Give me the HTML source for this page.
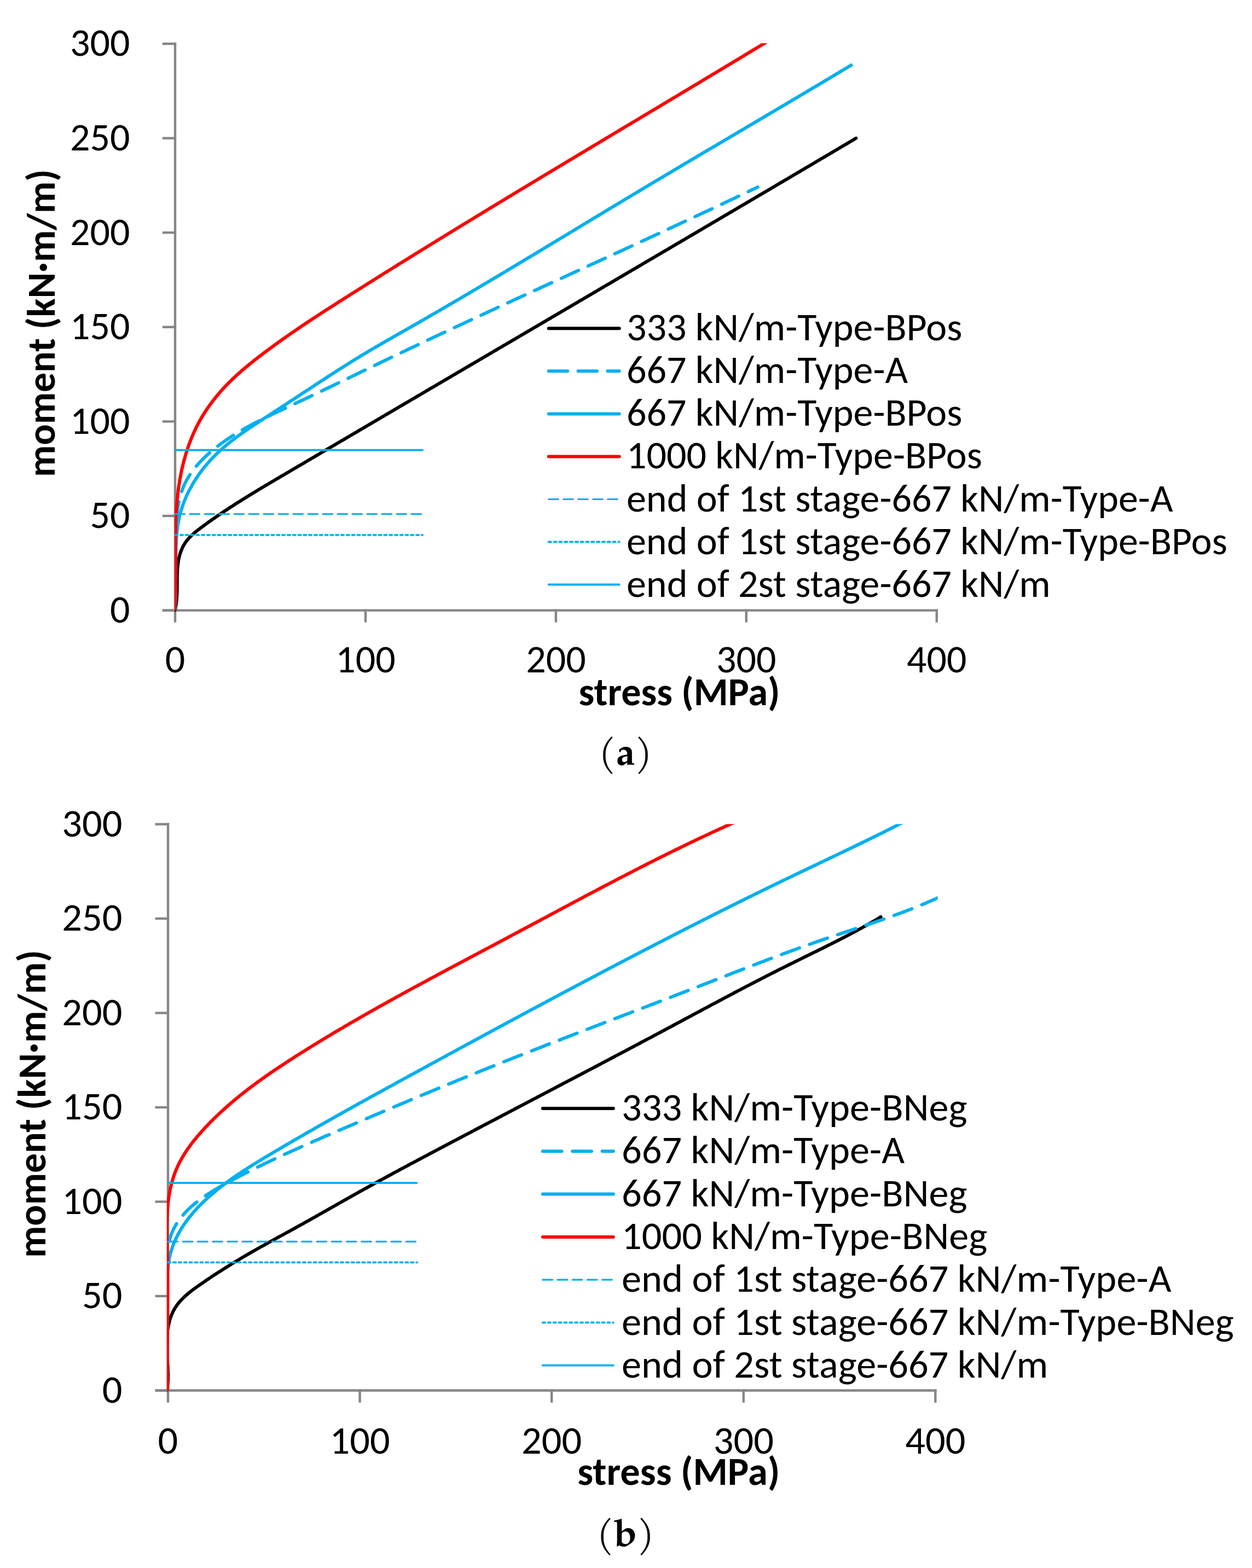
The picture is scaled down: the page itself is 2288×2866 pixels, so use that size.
<!DOCTYPE html>
<html><head><meta charset="utf-8"><title>Moment vs stress</title>
<style>html,body{margin:0;padding:0;background:#fff;}svg{display:block;}</style>
</head><body>
<svg width="2288" height="2866" viewBox="0 0 2288 2866">
<rect width="2288" height="2866" fill="#fff"/>
<g stroke="#868686" stroke-width="4.4" fill="none" stroke-linecap="butt">
<line x1="320.0" y1="77.8" x2="320.0" y2="1115.6"/>
<line x1="296.8" y1="1115.6" x2="322.2" y2="1115.6"/>
<line x1="296.8" y1="943.0" x2="322.2" y2="943.0"/>
<line x1="296.8" y1="770.4" x2="322.2" y2="770.4"/>
<line x1="296.8" y1="597.8" x2="322.2" y2="597.8"/>
<line x1="296.8" y1="425.2" x2="322.2" y2="425.2"/>
<line x1="296.8" y1="252.6" x2="322.2" y2="252.6"/>
<line x1="296.8" y1="80.0" x2="322.2" y2="80.0"/>
<line x1="296.8" y1="1115.6" x2="1714.0" y2="1115.6"/>
<line x1="320.0" y1="1113.4" x2="320.0" y2="1137.6"/>
<line x1="668.0" y1="1113.4" x2="668.0" y2="1137.6"/>
<line x1="1015.9" y1="1113.4" x2="1015.9" y2="1137.6"/>
<line x1="1363.8" y1="1113.4" x2="1363.8" y2="1137.6"/>
<line x1="1711.8" y1="1113.4" x2="1711.8" y2="1137.6"/>
</g>
<clipPath id="clipa"><rect x="319.2" y="79.0" width="1394.3" height="1039.6"/></clipPath>
<g clip-path="url(#clipa)" fill="none" stroke-linejoin="round">
<path d="M319.9 1115.2 L320.5 1112.7 L320.9 1110.3 L321.3 1107.8 L321.7 1105.3 L322.1 1102.8 L322.3 1100.3 L322.6 1097.8 L322.8 1095.2 L323.0 1092.7 L323.2 1090.1 L323.3 1087.5 L323.4 1085.0 L323.5 1082.3 L323.6 1079.7 L323.6 1077.1 L323.7 1074.5 L323.7 1071.8 L323.7 1069.2 L323.7 1066.5 L323.7 1063.8 L323.7 1061.2 L323.8 1058.5 L323.8 1055.8 L323.8 1053.1 L323.9 1050.4 L324.0 1047.8 L324.1 1045.1 L324.2 1042.4 L324.4 1039.7 L324.6 1037.1 L324.8 1034.4 L325.1 1031.8 L325.5 1029.2 L325.9 1026.6 L326.3 1024.0 L326.8 1021.4 L327.4 1018.8 L328.0 1016.3 L328.7 1013.8 L329.4 1011.3 L330.2 1008.9 L331.1 1006.5 L332.1 1004.1 L333.1 1001.8 L334.2 999.5 L335.4 997.2 L336.7 995.1 L338.0 992.9 L339.4 990.9 L340.9 988.9 L342.5 986.9 L344.1 985.0 L345.8 983.1 L347.6 981.3 L349.4 979.5 L351.2 977.7 L353.1 976.0 L355.1 974.3 L357.0 972.6 L359.0 971.0 L361.1 969.3 L363.1 967.7 L365.2 966.2 L367.3 964.6 L369.4 963.0 L371.5 961.5 L373.6 959.9 L375.7 958.4 L377.8 956.8 L380.0 955.3 L382.1 953.8 L384.2 952.3 L386.3 950.8 L388.5 949.3 L390.6 947.8 L392.8 946.3 L394.9 944.8 L397.1 943.3 L399.2 941.8 L401.4 940.4 L403.5 938.9 L405.7 937.4 L407.9 936.0 L410.0 934.5 L412.2 933.1 L414.4 931.7 L416.6 930.2 L418.7 928.8 L420.9 927.4 L423.1 926.0 L425.3 924.5 L427.5 923.1 L429.7 921.7 L431.9 920.3 L434.1 918.9 L436.3 917.5 L438.5 916.1 L440.7 914.8 L442.9 913.4 L445.1 912.0 L447.3 910.6 L449.5 909.3 L451.7 907.9 L454.0 906.5 L456.2 905.2 L458.4 903.8 L460.6 902.4 L462.8 901.1 L465.1 899.7 L467.3 898.4 L469.5 897.0 L471.7 895.7 L474.0 894.3 L476.2 893.0 L478.4 891.7 L480.7 890.3 L482.9 889.0 L485.1 887.6 L487.4 886.3 L489.6 885.0 L491.9 883.7 L494.1 882.3 L496.3 881.0 L498.6 879.7 L500.8 878.3 L503.1 877.0 L505.3 875.7 L507.5 874.4 L509.8 873.1 L512.0 871.7 L514.3 870.4 L516.5 869.1 L518.8 867.8 L521.0 866.5 L523.2 865.1 L525.5 863.8 L527.7 862.5 L530.0 861.2 L532.2 859.8 L534.5 858.5 L536.7 857.2 L539.0 855.9 L541.2 854.6 L543.4 853.2 L545.7 851.9 L547.9 850.6 L550.2 849.3 L552.4 848.0 L554.7 846.6 L556.9 845.3 L559.1 844.0 L561.4 842.7 L563.6 841.4 L565.9 840.0 L568.1 838.7 L570.4 837.4 L572.6 836.1 L574.9 834.8 L577.1 833.4 L579.3 832.1 L581.6 830.8 L583.8 829.5 L586.1 828.2 L588.3 826.8 L590.6 825.5 L592.8 824.2 L595.0 822.9 L597.3 821.6 L599.5 820.2 L601.8 818.9 L604.0 817.6 L606.3 816.3 L608.5 815.0 L610.8 813.6 L613.0 812.3 L615.2 811.0 L617.5 809.7 L619.7 808.4 L622.0 807.0 L624.2 805.7 L626.5 804.4 L628.7 803.1 L631.0 801.8 L633.2 800.4 L635.4 799.1 L637.7 797.8 L639.9 796.5 L642.2 795.2 L644.4 793.8 L646.7 792.5 L648.9 791.2 L651.2 789.9 L653.4 788.6 L655.6 787.2 L657.9 785.9 L660.1 784.6 L662.4 783.3 L664.6 782.0 L666.9 780.6 L669.1 779.3 L671.4 778.0 L673.6 776.7 L675.8 775.4 L678.1 774.1 L680.3 772.7 L682.6 771.4 L684.8 770.1 L687.1 768.8 L689.3 767.5 L691.6 766.1 L693.8 764.8 L696.0 763.5 L698.3 762.2 L700.5 760.9 L702.8 759.5 L705.0 758.2 L707.3 756.9 L709.5 755.6 L711.8 754.3 L714.0 752.9 L716.2 751.6 L718.5 750.3 L720.7 749.0 L723.0 747.7 L725.2 746.4 L727.5 745.0 L729.7 743.7 L732.0 742.4 L734.2 741.1 L736.4 739.8 L738.7 738.4 L740.9 737.1 L743.2 735.8 L745.4 734.5 L747.7 733.2 L749.9 731.8 L752.2 730.5 L754.4 729.2 L756.7 727.9 L758.9 726.6 L761.1 725.3 L763.4 723.9 L765.6 722.6 L767.9 721.3 L770.1 720.0 L772.4 718.7 L774.6 717.3 L776.9 716.0 L779.1 714.7 L781.3 713.4 L783.6 712.1 L785.8 710.7 L788.1 709.4 L790.3 708.1 L792.6 706.8 L794.8 705.5 L797.1 704.2 L799.3 702.8 L801.5 701.5 L803.8 700.2 L806.0 698.9 L808.3 697.6 L810.5 696.2 L812.8 694.9 L815.0 693.6 L817.3 692.3 L819.5 691.0 L821.8 689.6 L824.0 688.3 L826.2 687.0 L828.5 685.7 L830.7 684.4 L833.0 683.1 L835.2 681.7 L837.5 680.4 L839.7 679.1 L842.0 677.8 L844.2 676.5 L846.5 675.1 L848.7 673.8 L850.9 672.5 L853.2 671.2 L855.4 669.9 L857.7 668.6 L859.9 667.2 L862.2 665.9 L864.4 664.6 L866.7 663.3 L868.9 662.0 L871.1 660.6 L873.4 659.3 L875.6 658.0 L877.9 656.7 L880.1 655.4 L882.4 654.1 L884.6 652.7 L886.9 651.4 L889.1 650.1 L891.4 648.8 L893.6 647.5 L895.8 646.1 L898.1 644.8 L900.3 643.5 L902.6 642.2 L904.8 640.9 L907.1 639.6 L909.3 638.2 L911.6 636.9 L913.8 635.6 L916.1 634.3 L918.3 633.0 L920.5 631.6 L922.8 630.3 L925.0 629.0 L927.3 627.7 L929.5 626.4 L931.8 625.1 L934.0 623.7 L936.3 622.4 L938.5 621.1 L940.7 619.8 L943.0 618.5 L945.2 617.1 L947.5 615.8 L949.7 614.5 L952.0 613.2 L954.2 611.9 L956.5 610.6 L958.7 609.2 L961.0 607.9 L963.2 606.6 L965.4 605.3 L967.7 604.0 L969.9 602.6 L972.2 601.3 L974.4 600.0 L976.7 598.7 L978.9 597.4 L981.2 596.1 L983.4 594.7 L985.7 593.4 L987.9 592.1 L990.1 590.8 L992.4 589.5 L994.6 588.1 L996.9 586.8 L999.1 585.5 L1001.4 584.2 L1003.6 582.9 L1005.9 581.6 L1008.1 580.2 L1010.4 578.9 L1012.6 577.6 L1014.8 576.3 L1017.1 575.0 L1019.3 573.6 L1021.6 572.3 L1023.8 571.0 L1026.1 569.7 L1028.3 568.4 L1030.6 567.1 L1032.8 565.7 L1035.0 564.4 L1037.3 563.1 L1039.5 561.8 L1041.8 560.5 L1044.0 559.1 L1046.3 557.8 L1048.5 556.5 L1050.8 555.2 L1053.0 553.9 L1055.3 552.6 L1057.5 551.2 L1059.7 549.9 L1062.0 548.6 L1064.2 547.3 L1066.5 546.0 L1068.7 544.6 L1071.0 543.3 L1073.2 542.0 L1075.5 540.7 L1077.7 539.4 L1079.9 538.1 L1082.2 536.7 L1084.4 535.4 L1086.7 534.1 L1088.9 532.8 L1091.2 531.5 L1093.4 530.1 L1095.7 528.8 L1097.9 527.5 L1100.2 526.2 L1102.4 524.9 L1104.6 523.5 L1106.9 522.2 L1109.1 520.9 L1111.4 519.6 L1113.6 518.3 L1115.9 517.0 L1118.1 515.6 L1120.4 514.3 L1122.6 513.0 L1124.8 511.7 L1127.1 510.4 L1129.3 509.0 L1131.6 507.7 L1133.8 506.4 L1136.1 505.1 L1138.3 503.8 L1140.6 502.4 L1142.8 501.1 L1145.0 499.8 L1147.3 498.5 L1149.5 497.2 L1151.8 495.9 L1154.0 494.5 L1156.3 493.2 L1158.5 491.9 L1160.8 490.6 L1163.0 489.3 L1165.3 487.9 L1167.5 486.6 L1169.7 485.3 L1172.0 484.0 L1174.2 482.7 L1176.5 481.3 L1178.7 480.0 L1181.0 478.7 L1183.2 477.4 L1185.5 476.1 L1187.7 474.7 L1189.9 473.4 L1192.2 472.1 L1194.4 470.8 L1196.7 469.5 L1198.9 468.1 L1201.2 466.8 L1203.4 465.5 L1205.7 464.2 L1207.9 462.9 L1210.1 461.5 L1212.4 460.2 L1214.6 458.9 L1216.9 457.6 L1219.1 456.3 L1221.4 455.0 L1223.6 453.6 L1225.8 452.3 L1228.1 451.0 L1230.3 449.7 L1232.6 448.4 L1234.8 447.0 L1237.1 445.7 L1239.3 444.4 L1241.6 443.1 L1243.8 441.8 L1246.0 440.4 L1248.3 439.1 L1250.5 437.8 L1252.8 436.5 L1255.0 435.2 L1257.3 433.8 L1259.5 432.5 L1261.8 431.2 L1264.0 429.9 L1266.2 428.6 L1268.5 427.2 L1270.7 425.9 L1273.0 424.6 L1275.2 423.3 L1277.5 421.9 L1279.7 420.6 L1282.0 419.3 L1284.2 418.0 L1286.4 416.7 L1288.7 415.3 L1290.9 414.0 L1293.2 412.7 L1295.4 411.4 L1297.7 410.1 L1299.9 408.7 L1302.1 407.4 L1304.4 406.1 L1306.6 404.8 L1308.9 403.5 L1311.1 402.1 L1313.4 400.8 L1315.6 399.5 L1317.8 398.2 L1320.1 396.9 L1322.3 395.5 L1324.6 394.2 L1326.8 392.9 L1329.1 391.6 L1331.3 390.2 L1333.6 388.9 L1335.8 387.6 L1338.0 386.3 L1340.3 385.0 L1342.5 383.6 L1344.8 382.3 L1347.0 381.0 L1349.3 379.7 L1351.5 378.4 L1353.7 377.0 L1356.0 375.7 L1358.2 374.4 L1360.5 373.1 L1362.7 371.7 L1365.0 370.4 L1367.2 369.1 L1369.4 367.8 L1371.7 366.5 L1373.9 365.1 L1376.2 363.8 L1378.4 362.5 L1380.7 361.2 L1382.9 359.9 L1385.1 358.5 L1387.4 357.2 L1389.6 355.9 L1391.9 354.6 L1394.1 353.2 L1396.4 351.9 L1398.6 350.6 L1400.8 349.3 L1403.1 348.0 L1405.3 346.6 L1407.6 345.3 L1409.8 344.0 L1412.1 342.7 L1414.3 341.3 L1416.5 340.0 L1418.8 338.7 L1421.0 337.4 L1423.3 336.0 L1425.5 334.7 L1427.8 333.4 L1430.0 332.1 L1432.2 330.8 L1434.5 329.4 L1436.7 328.1 L1439.0 326.8 L1441.2 325.5 L1443.4 324.1 L1445.7 322.8 L1447.9 321.5 L1450.2 320.2 L1452.4 318.8 L1454.7 317.5 L1456.9 316.2 L1459.1 314.9 L1461.4 313.6 L1463.6 312.2 L1465.9 310.9 L1468.1 309.6 L1470.4 308.3 L1472.6 306.9 L1474.8 305.6 L1477.1 304.3 L1479.3 303.0 L1481.6 301.6 L1483.8 300.3 L1486.0 299.0 L1488.3 297.7 L1490.5 296.3 L1492.8 295.0 L1495.0 293.7 L1497.3 292.4 L1499.5 291.0 L1501.7 289.7 L1504.0 288.4 L1506.2 287.1 L1508.5 285.8 L1510.7 284.4 L1512.9 283.1 L1515.2 281.8 L1517.4 280.5 L1519.7 279.1 L1521.9 277.8 L1524.1 276.5 L1526.4 275.2 L1528.6 273.8 L1530.9 272.5 L1533.1 271.2 L1535.4 269.9 L1537.6 268.5 L1539.8 267.2 L1542.1 265.9 L1544.3 264.6 L1546.6 263.2 L1548.8 261.9 L1551.0 260.6 L1553.3 259.2 L1555.5 257.9 L1557.8 256.6 L1560.0 255.3 L1562.2 253.9 L1564.5 252.6" stroke="#000" stroke-width="6" stroke-linecap="round"/>
<path d="M319.6 1115.4 L319.7 1113.0 L319.8 1110.7 L320.0 1108.3 L320.1 1106.0 L320.2 1103.6 L320.3 1101.3 L320.4 1098.9 L320.5 1096.5 L320.6 1094.2 L320.6 1091.8 L320.7 1089.5 L320.8 1087.1 L320.9 1084.8 L320.9 1082.4 L321.0 1080.1 L321.0 1077.7 L321.1 1075.4 L321.1 1073.0 L321.2 1070.7 L321.2 1068.3 L321.3 1066.0 L321.3 1063.6 L321.3 1061.2 L321.3 1058.9 L321.4 1056.5 L321.4 1054.2 L321.4 1051.8 L321.4 1049.4 L321.4 1047.1 L321.4 1044.7 L321.4 1042.3 L321.4 1040.0 L321.4 1037.6 L321.4 1035.2 L321.4 1032.8 L321.3 1030.5 L321.3 1028.1 L321.3 1025.7 L321.3 1023.3 L321.2 1020.9 L321.2 1018.5 L321.2 1016.1 L321.2 1013.8 L321.1 1011.4 L321.1 1009.0 L321.1 1006.6 L321.1 1004.2 L321.1 1001.8 L321.1 999.4 L321.0 997.0 L321.0 994.6 L321.0 992.2 L321.1 989.8 L321.1 987.4 L321.1 985.0 L321.1 982.6 L321.2 980.2 L321.2 977.8 L321.2 975.4 L321.3 973.0 L321.4 970.6 L321.5 968.1 L321.6 965.7 L321.7 963.3 L321.8 960.9 L321.9 958.5 L322.0 956.1 L322.2 953.7 L322.4 951.3 L322.6 948.9 L322.8 946.6 L323.0 944.2 L323.2 941.8 L323.5 939.4 L323.7 937.0 L324.0 934.7 L324.3 932.3 L324.7 929.9 L325.0 927.6 L325.4 925.3 L325.8 922.9 L326.3 920.6 L326.7 918.3 L327.2 916.0 L327.7 913.7 L328.3 911.4 L328.8 909.1 L329.4 906.9 L330.1 904.6 L330.7 902.4 L331.4 900.2 L332.2 898.0 L332.9 895.8 L333.7 893.6 L334.6 891.5 L335.4 889.3 L336.3 887.2 L337.3 885.1 L338.3 883.0 L339.3 881.0 L340.4 878.9 L341.5 876.9 L342.6 874.9 L343.8 872.9 L345.0 870.9 L346.2 869.0 L347.5 867.0 L348.8 865.1 L350.1 863.2 L351.5 861.3 L352.9 859.4 L354.3 857.6 L355.8 855.7 L357.2 853.9 L358.7 852.1 L360.3 850.3 L361.8 848.5 L363.4 846.8 L365.0 845.0 L366.6 843.3 L368.3 841.6 L369.9 839.9 L371.6 838.2 L373.3 836.6 L375.0 834.9 L376.8 833.3 L378.5 831.7 L380.3 830.1 L382.1 828.5 L383.9 827.0 L385.7 825.4 L387.5 823.9 L389.3 822.4 L391.2 820.9 L393.0 819.4 L394.9 817.9 L396.7 816.4 L398.6 815.0 L400.5 813.5 L402.4 812.1 L404.3 810.7 L406.2 809.3 L408.1 807.9 L410.1 806.6 L412.0 805.2 L414.0 803.9 L415.9 802.5 L417.9 801.2 L419.9 799.9 L421.8 798.6 L423.8 797.3 L425.8 796.1 L427.8 794.8 L429.8 793.5 L431.8 792.3 L433.9 791.1 L435.9 789.8 L437.9 788.6 L440.0 787.4 L442.0 786.2 L444.1 785.0 L446.1 783.9 L448.2 782.7 L450.3 781.5 L452.3 780.4 L454.4 779.2 L456.5 778.1 L458.6 777.0 L460.7 775.8 L462.8 774.7 L464.9 773.6 L467.0 772.5 L469.1 771.4 L471.2 770.3 L473.3 769.2 L475.5 768.2 L477.6 767.1 L479.7 766.0 L481.8 765.0 L484.0 763.9 L486.1 762.9 L488.3 761.8 L490.4 760.8 L492.6 759.7 L494.7 758.7 L496.8 757.6 L499.0 756.6 L501.2 755.6 L503.3 754.6 L505.5 753.5 L507.6 752.5 L509.8 751.5 L511.9 750.5 L514.1 749.5 L516.3 748.5 L518.4 747.4 L520.6 746.4 L522.7 745.4 L524.9 744.4 L527.1 743.4 L529.2 742.4 L531.4 741.4 L533.6 740.4 L535.7 739.4 L537.9 738.3 L540.0 737.3 L542.2 736.3 L544.3 735.3 L546.5 734.3 L548.7 733.3 L550.8 732.3 L553.0 731.2 L555.1 730.2 L557.3 729.2 L559.4 728.2 L561.6 727.2 L563.7 726.2 L565.9 725.1 L568.0 724.1 L570.2 723.1 L572.3 722.1 L574.5 721.0 L576.6 720.0 L578.8 719.0 L580.9 718.0 L583.0 716.9 L585.2 715.9 L587.3 714.9 L589.5 713.9 L591.6 712.8 L593.7 711.8 L595.9 710.8 L598.0 709.8 L600.2 708.7 L602.3 707.7 L604.4 706.7 L606.6 705.6 L608.7 704.6 L610.9 703.6 L613.0 702.5 L615.1 701.5 L617.3 700.5 L619.4 699.5 L621.5 698.4 L623.7 697.4 L625.8 696.4 L627.9 695.3 L630.1 694.3 L632.2 693.3 L634.4 692.2 L636.5 691.2 L638.6 690.2 L640.8 689.1 L642.9 688.1 L645.0 687.1 L647.2 686.0 L649.3 685.0 L651.4 684.0 L653.6 682.9 L655.7 681.9 L657.8 680.9 L660.0 679.8 L662.1 678.8 L664.2 677.8 L666.4 676.8 L668.5 675.7 L670.6 674.7 L672.8 673.7 L674.9 672.6 L677.0 671.6 L679.2 670.6 L681.3 669.5 L683.4 668.5 L685.6 667.5 L687.7 666.5 L689.8 665.4 L692.0 664.4 L694.1 663.4 L696.2 662.3 L698.4 661.3 L700.5 660.3 L702.6 659.3 L704.8 658.2 L706.9 657.2 L709.0 656.2 L711.2 655.2 L713.3 654.1 L715.5 653.1 L717.6 652.1 L719.7 651.1 L721.9 650.0 L724.0 649.0 L726.1 648.0 L728.3 647.0 L730.4 646.0 L732.6 644.9 L734.7 643.9 L736.8 642.9 L739.0 641.9 L741.1 640.9 L743.3 639.8 L745.4 638.8 L747.5 637.8 L749.7 636.8 L751.8 635.8 L754.0 634.8 L756.1 633.7 L758.3 632.7 L760.4 631.7 L762.5 630.7 L764.7 629.7 L766.8 628.7 L769.0 627.7 L771.1 626.6 L773.3 625.6 L775.4 624.6 L777.5 623.6 L779.7 622.6 L781.8 621.6 L784.0 620.6 L786.1 619.6 L788.3 618.6 L790.4 617.5 L792.6 616.5 L794.7 615.5 L796.9 614.5 L799.0 613.5 L801.2 612.5 L803.3 611.5 L805.4 610.5 L807.6 609.5 L809.7 608.5 L811.9 607.5 L814.0 606.5 L816.2 605.4 L818.3 604.4 L820.5 603.4 L822.6 602.4 L824.8 601.4 L826.9 600.4 L829.1 599.4 L831.2 598.4 L833.4 597.4 L835.5 596.4 L837.7 595.4 L839.8 594.4 L842.0 593.4 L844.1 592.4 L846.3 591.4 L848.4 590.4 L850.6 589.4 L852.7 588.4 L854.9 587.4 L857.0 586.4 L859.2 585.4 L861.3 584.4 L863.5 583.4 L865.6 582.4 L867.8 581.4 L870.0 580.4 L872.1 579.4 L874.3 578.4 L876.4 577.4 L878.6 576.4 L880.7 575.4 L882.9 574.4 L885.0 573.4 L887.2 572.4 L889.3 571.4 L891.5 570.4 L893.6 569.4 L895.8 568.4 L897.9 567.4 L900.1 566.4 L902.3 565.4 L904.4 564.4 L906.6 563.4 L908.7 562.4 L910.9 561.4 L913.0 560.4 L915.2 559.4 L917.3 558.4 L919.5 557.5 L921.7 556.5 L923.8 555.5 L926.0 554.5 L928.1 553.5 L930.3 552.5 L932.4 551.5 L934.6 550.5 L936.7 549.5 L938.9 548.5 L941.1 547.5 L943.2 546.5 L945.4 545.5 L947.5 544.5 L949.7 543.5 L951.8 542.5 L954.0 541.6 L956.2 540.6 L958.3 539.6 L960.5 538.6 L962.6 537.6 L964.8 536.6 L966.9 535.6 L969.1 534.6 L971.3 533.6 L973.4 532.6 L975.6 531.6 L977.7 530.6 L979.9 529.7 L982.0 528.7 L984.2 527.7 L986.4 526.7 L988.5 525.7 L990.7 524.7 L992.8 523.7 L995.0 522.7 L997.2 521.7 L999.3 520.7 L1001.5 519.8 L1003.6 518.8 L1005.8 517.8 L1007.9 516.8 L1010.1 515.8 L1012.3 514.8 L1014.4 513.8 L1016.6 512.8 L1018.7 511.8 L1020.9 510.8 L1023.1 509.9 L1025.2 508.9 L1027.4 507.9 L1029.5 506.9 L1031.7 505.9 L1033.9 504.9 L1036.0 503.9 L1038.2 502.9 L1040.3 501.9 L1042.5 500.9 L1044.6 500.0 L1046.8 499.0 L1049.0 498.0 L1051.1 497.0 L1053.3 496.0 L1055.4 495.0 L1057.6 494.0 L1059.8 493.0 L1061.9 492.0 L1064.1 491.1 L1066.2 490.1 L1068.4 489.1 L1070.6 488.1 L1072.7 487.1 L1074.9 486.1 L1077.0 485.1 L1079.2 484.1 L1081.3 483.1 L1083.5 482.1 L1085.7 481.2 L1087.8 480.2 L1090.0 479.2 L1092.1 478.2 L1094.3 477.2 L1096.5 476.2 L1098.6 475.2 L1100.8 474.2 L1102.9 473.2 L1105.1 472.2 L1107.2 471.3 L1109.4 470.3 L1111.6 469.3 L1113.7 468.3 L1115.9 467.3 L1118.0 466.3 L1120.2 465.3 L1122.4 464.3 L1124.5 463.3 L1126.7 462.3 L1128.8 461.4 L1131.0 460.4 L1133.1 459.4 L1135.3 458.4 L1137.5 457.4 L1139.6 456.4 L1141.8 455.4 L1143.9 454.4 L1146.1 453.4 L1148.2 452.4 L1150.4 451.4 L1152.6 450.4 L1154.7 449.5 L1156.9 448.5 L1159.0 447.5 L1161.2 446.5 L1163.3 445.5 L1165.5 444.5 L1167.7 443.5 L1169.8 442.5 L1172.0 441.5 L1174.1 440.5 L1176.3 439.5 L1178.4 438.5 L1180.6 437.5 L1182.7 436.5 L1184.9 435.6 L1187.1 434.6 L1189.2 433.6 L1191.4 432.6 L1193.5 431.6 L1195.7 430.6 L1197.8 429.6 L1200.0 428.6 L1202.1 427.6 L1204.3 426.6 L1206.5 425.6 L1208.6 424.6 L1210.8 423.6 L1212.9 422.6 L1215.1 421.6 L1217.2 420.6 L1219.4 419.6 L1221.5 418.6 L1223.7 417.6 L1225.8 416.6 L1228.0 415.6 L1230.1 414.6 L1232.3 413.6 L1234.5 412.6 L1236.6 411.6 L1238.8 410.6 L1240.9 409.6 L1243.1 408.6 L1245.2 407.6 L1247.4 406.6 L1249.5 405.6 L1251.7 404.6 L1253.8 403.6 L1256.0 402.6 L1258.1 401.6 L1260.3 400.6 L1262.4 399.6 L1264.6 398.6 L1266.7 397.6 L1268.9 396.6 L1271.0 395.6 L1273.2 394.6 L1275.3 393.6 L1277.5 392.6 L1279.6 391.6 L1281.8 390.6 L1283.9 389.6 L1286.1 388.6 L1288.2 387.6 L1290.4 386.6 L1292.5 385.6 L1294.7 384.6 L1296.8 383.6 L1299.0 382.6 L1301.1 381.6 L1303.3 380.6 L1305.4 379.5 L1307.5 378.5 L1309.7 377.5 L1311.8 376.5 L1314.0 375.5 L1316.1 374.5 L1318.3 373.5 L1320.4 372.5 L1322.6 371.5 L1324.7 370.5 L1326.9 369.5 L1329.0 368.4 L1331.1 367.4 L1333.3 366.4 L1335.4 365.4 L1337.6 364.4 L1339.7 363.4 L1341.9 362.4 L1344.0 361.4 L1346.1 360.3 L1348.3 359.3 L1350.4 358.3 L1352.6 357.3 L1354.7 356.3 L1356.9 355.3 L1359.0 354.3 L1361.1 353.2 L1363.3 352.2 L1365.4 351.2 L1367.6 350.2 L1369.7 349.2 L1371.8 348.1 L1374.0 347.1 L1376.1 346.1 L1378.3 345.1 L1380.4 344.1 L1382.5 343.1 L1384.7 342.0" stroke="#00B0F0" stroke-width="6" stroke-linecap="round" stroke-dasharray="34.5 19.3" stroke-dashoffset="50.83"/>
<path d="M319.8 1115.3 L319.9 1112.6 L320.1 1109.9 L320.2 1107.1 L320.3 1104.4 L320.4 1101.6 L320.5 1098.9 L320.6 1096.1 L320.7 1093.4 L320.7 1090.6 L320.8 1087.8 L320.8 1085.1 L320.9 1082.3 L320.9 1079.5 L320.9 1076.8 L321.0 1074.0 L321.0 1071.2 L321.0 1068.4 L321.0 1065.7 L321.0 1062.9 L321.0 1060.1 L321.0 1057.3 L321.0 1054.5 L321.0 1051.7 L321.0 1048.9 L321.0 1046.1 L321.0 1043.3 L321.0 1040.5 L321.0 1037.7 L321.0 1034.9 L321.0 1032.1 L321.0 1029.3 L321.1 1026.5 L321.1 1023.7 L321.1 1020.9 L321.2 1018.1 L321.2 1015.3 L321.3 1012.5 L321.3 1009.6 L321.4 1006.8 L321.5 1004.0 L321.5 1001.2 L321.6 998.4 L321.8 995.5 L321.9 992.7 L322.0 989.9 L322.2 987.1 L322.4 984.3 L322.6 981.5 L322.8 978.7 L323.1 975.9 L323.3 973.1 L323.6 970.3 L324.0 967.5 L324.3 964.7 L324.7 961.9 L325.1 959.2 L325.6 956.4 L326.1 953.7 L326.6 951.0 L327.1 948.2 L327.7 945.5 L328.4 942.8 L329.0 940.2 L329.7 937.5 L330.5 934.8 L331.2 932.2 L332.1 929.5 L332.9 926.9 L333.8 924.3 L334.7 921.7 L335.7 919.1 L336.6 916.5 L337.7 914.0 L338.7 911.4 L339.8 908.9 L340.9 906.4 L342.1 903.9 L343.2 901.4 L344.4 898.9 L345.7 896.5 L347.0 894.0 L348.3 891.6 L349.6 889.2 L351.0 886.8 L352.3 884.4 L353.8 882.0 L355.2 879.6 L356.7 877.3 L358.2 875.0 L359.7 872.7 L361.3 870.4 L362.8 868.1 L364.4 865.8 L366.1 863.6 L367.7 861.4 L369.4 859.1 L371.1 856.9 L372.8 854.8 L374.6 852.6 L376.4 850.5 L378.2 848.4 L380.0 846.2 L381.8 844.2 L383.7 842.1 L385.6 840.0 L387.5 838.0 L389.4 836.0 L391.4 834.0 L393.3 832.0 L395.3 830.1 L397.3 828.1 L399.4 826.2 L401.4 824.3 L403.5 822.4 L405.6 820.6 L407.6 818.7 L409.8 816.9 L411.9 815.1 L414.0 813.3 L416.2 811.5 L418.4 809.8 L420.5 808.0 L422.7 806.3 L425.0 804.6 L427.2 802.9 L429.4 801.2 L431.6 799.5 L433.9 797.8 L436.2 796.2 L438.4 794.6 L440.7 792.9 L443.0 791.3 L445.3 789.7 L447.6 788.1 L449.9 786.5 L452.2 784.9 L454.6 783.3 L456.9 781.7 L459.2 780.2 L461.6 778.6 L463.9 777.1 L466.3 775.5 L468.6 774.0 L471.0 772.4 L473.3 770.9 L475.7 769.3 L478.0 767.8 L480.4 766.3 L482.7 764.8 L485.1 763.2 L487.4 761.7 L489.7 760.2 L492.1 758.7 L494.4 757.1 L496.8 755.6 L499.1 754.1 L501.4 752.6 L503.8 751.0 L506.1 749.5 L508.5 748.0 L510.8 746.5 L513.1 745.0 L515.4 743.4 L517.8 741.9 L520.1 740.4 L522.4 738.9 L524.7 737.4 L527.1 735.8 L529.4 734.3 L531.7 732.8 L534.0 731.3 L536.4 729.8 L538.7 728.2 L541.0 726.7 L543.3 725.2 L545.7 723.7 L548.0 722.1 L550.3 720.6 L552.6 719.1 L554.9 717.6 L557.3 716.1 L559.6 714.5 L561.9 713.0 L564.2 711.5 L566.6 710.0 L568.9 708.4 L571.2 706.9 L573.5 705.4 L575.9 703.8 L578.2 702.3 L580.5 700.8 L582.9 699.3 L585.2 697.7 L587.5 696.2 L589.9 694.7 L592.2 693.2 L594.5 691.6 L596.9 690.1 L599.2 688.6 L601.6 687.1 L603.9 685.6 L606.2 684.0 L608.6 682.5 L610.9 681.0 L613.3 679.5 L615.6 678.0 L618.0 676.5 L620.3 675.0 L622.7 673.5 L625.0 672.0 L627.4 670.5 L629.8 669.0 L632.1 667.5 L634.5 666.0 L636.9 664.5 L639.2 663.0 L641.6 661.5 L644.0 660.1 L646.3 658.6 L648.7 657.1 L651.1 655.7 L653.5 654.2 L655.8 652.7 L658.2 651.3 L660.6 649.8 L663.0 648.4 L665.4 647.0 L667.8 645.5 L670.2 644.1 L672.6 642.7 L675.0 641.2 L677.4 639.8 L679.8 638.4 L682.2 637.0 L684.6 635.6 L687.0 634.2 L689.4 632.8 L691.8 631.4 L694.3 630.0 L696.7 628.6 L699.1 627.2 L701.5 625.8 L703.9 624.4 L706.3 623.0 L708.8 621.6 L711.2 620.2 L713.6 618.8 L716.0 617.5 L718.4 616.1 L720.9 614.7 L723.3 613.3 L725.7 611.9 L728.1 610.6 L730.6 609.2 L733.0 607.8 L735.4 606.4 L737.8 605.0 L740.2 603.7 L742.7 602.3 L745.1 600.9 L747.5 599.5 L749.9 598.1 L752.4 596.8 L754.8 595.4 L757.2 594.0 L759.6 592.6 L762.0 591.2 L764.5 589.8 L766.9 588.5 L769.3 587.1 L771.7 585.7 L774.1 584.3 L776.6 582.9 L779.0 581.5 L781.4 580.1 L783.8 578.7 L786.2 577.3 L788.6 575.9 L791.0 574.5 L793.5 573.1 L795.9 571.8 L798.3 570.4 L800.7 569.0 L803.1 567.6 L805.5 566.2 L807.9 564.7 L810.3 563.3 L812.7 561.9 L815.2 560.5 L817.6 559.1 L820.0 557.7 L822.4 556.3 L824.8 554.9 L827.2 553.5 L829.6 552.1 L832.0 550.7 L834.4 549.3 L836.8 547.9 L839.2 546.5 L841.6 545.0 L844.0 543.6 L846.4 542.2 L848.8 540.8 L851.2 539.4 L853.6 538.0 L856.0 536.6 L858.4 535.1 L860.8 533.7 L863.2 532.3 L865.6 530.9 L868.1 529.5 L870.4 528.0 L872.8 526.6 L875.2 525.2 L877.6 523.8 L880.0 522.4 L882.4 520.9 L884.8 519.5 L887.2 518.1 L889.6 516.7 L892.0 515.2 L894.4 513.8 L896.8 512.4 L899.2 510.9 L901.6 509.5 L904.0 508.1 L906.4 506.7 L908.8 505.2 L911.2 503.8 L913.6 502.4 L916.0 500.9 L918.4 499.5 L920.8 498.1 L923.2 496.7 L925.6 495.2 L928.0 493.8 L930.3 492.4 L932.7 490.9 L935.1 489.5 L937.5 488.1 L939.9 486.6 L942.3 485.2 L944.7 483.7 L947.1 482.3 L949.5 480.9 L951.9 479.4 L954.3 478.0 L956.7 476.6 L959.0 475.1 L961.4 473.7 L963.8 472.2 L966.2 470.8 L968.6 469.4 L971.0 467.9 L973.4 466.5 L975.8 465.1 L978.2 463.6 L980.6 462.2 L982.9 460.7 L985.3 459.3 L987.7 457.9 L990.1 456.4 L992.5 455.0 L994.9 453.5 L997.3 452.1 L999.7 450.6 L1002.0 449.2 L1004.4 447.8 L1006.8 446.3 L1009.2 444.9 L1011.6 443.4 L1014.0 442.0 L1016.4 440.6 L1018.8 439.1 L1021.2 437.7 L1023.5 436.2 L1025.9 434.8 L1028.3 433.3 L1030.7 431.9 L1033.1 430.5 L1035.5 429.0 L1037.9 427.6 L1040.3 426.1 L1042.6 424.7 L1045.0 423.2 L1047.4 421.8 L1049.8 420.4 L1052.2 418.9 L1054.6 417.5 L1057.0 416.0 L1059.3 414.6 L1061.7 413.1 L1064.1 411.7 L1066.5 410.2 L1068.9 408.8 L1071.3 407.4 L1073.7 405.9 L1076.1 404.5 L1078.4 403.0 L1080.8 401.6 L1083.2 400.1 L1085.6 398.7 L1088.0 397.3 L1090.4 395.8 L1092.8 394.4 L1095.2 392.9 L1097.6 391.5 L1099.9 390.1 L1102.3 388.6 L1104.7 387.2 L1107.1 385.7 L1109.5 384.3 L1111.9 382.8 L1114.3 381.4 L1116.7 380.0 L1119.0 378.5 L1121.4 377.1 L1123.8 375.6 L1126.2 374.2 L1128.6 372.8 L1131.0 371.3 L1133.4 369.9 L1135.8 368.5 L1138.2 367.0 L1140.6 365.6 L1142.9 364.1 L1145.3 362.7 L1147.7 361.3 L1150.1 359.8 L1152.5 358.4 L1154.9 357.0 L1157.3 355.5 L1159.7 354.1 L1162.1 352.7 L1164.5 351.2 L1166.9 349.8 L1169.3 348.4 L1171.7 346.9 L1174.0 345.5 L1176.4 344.1 L1178.8 342.6 L1181.2 341.2 L1183.6 339.8 L1186.0 338.3 L1188.4 336.9 L1190.8 335.5 L1193.2 334.0 L1195.6 332.6 L1198.0 331.2 L1200.4 329.8 L1202.8 328.3 L1205.2 326.9 L1207.6 325.5 L1210.0 324.1 L1212.4 322.6 L1214.8 321.2 L1217.2 319.8 L1219.6 318.3 L1222.0 316.9 L1224.4 315.5 L1226.8 314.1 L1229.2 312.6 L1231.6 311.2 L1234.0 309.8 L1236.4 308.4 L1238.8 307.0 L1241.1 305.5 L1243.5 304.1 L1245.9 302.7 L1248.3 301.3 L1250.7 299.8 L1253.1 298.4 L1255.5 297.0 L1257.9 295.6 L1260.3 294.1 L1262.7 292.7 L1265.1 291.3 L1267.5 289.9 L1269.9 288.5 L1272.3 287.0 L1274.7 285.6 L1277.1 284.2 L1279.5 282.8 L1281.9 281.4 L1284.3 279.9 L1286.7 278.5 L1289.1 277.1 L1291.5 275.7 L1293.9 274.3 L1296.4 272.8 L1298.8 271.4 L1301.2 270.0 L1303.6 268.6 L1306.0 267.2 L1308.4 265.7 L1310.8 264.3 L1313.2 262.9 L1315.6 261.5 L1318.0 260.1 L1320.4 258.7 L1322.8 257.2 L1325.2 255.8 L1327.6 254.4 L1330.0 253.0 L1332.4 251.6 L1334.8 250.1 L1337.2 248.7 L1339.6 247.3 L1342.0 245.9 L1344.4 244.5 L1346.8 243.1 L1349.2 241.6 L1351.6 240.2 L1354.0 238.8 L1356.4 237.4 L1358.8 236.0 L1361.2 234.6 L1363.6 233.1 L1366.0 231.7 L1368.4 230.3 L1370.8 228.9 L1373.2 227.5 L1375.6 226.0 L1378.0 224.6 L1380.4 223.2 L1382.8 221.8 L1385.2 220.4 L1387.6 218.9 L1390.0 217.5 L1392.4 216.1 L1394.8 214.7 L1397.2 213.3 L1399.6 211.9 L1402.0 210.4 L1404.4 209.0 L1406.8 207.6 L1409.2 206.2 L1411.6 204.8 L1414.0 203.3 L1416.4 201.9 L1418.8 200.5 L1421.2 199.1 L1423.6 197.7 L1426.0 196.2 L1428.4 194.8 L1430.8 193.4 L1433.2 192.0 L1435.6 190.6 L1438.0 189.1 L1440.4 187.7 L1442.8 186.3 L1445.2 184.9 L1447.6 183.4 L1450.0 182.0 L1452.4 180.6 L1454.8 179.2 L1457.2 177.8 L1459.6 176.3 L1462.0 174.9 L1464.4 173.5 L1466.8 172.1 L1469.2 170.6 L1471.6 169.2 L1474.0 167.8 L1476.4 166.4 L1478.8 164.9 L1481.2 163.5 L1483.6 162.1 L1486.0 160.7 L1488.4 159.2 L1490.8 157.8 L1493.2 156.4 L1495.6 155.0 L1498.0 153.5 L1500.4 152.1 L1502.8 150.7 L1505.2 149.2 L1507.6 147.8 L1510.0 146.4 L1512.4 145.0 L1514.8 143.5 L1517.2 142.1 L1519.6 140.7 L1521.9 139.2 L1524.3 137.8 L1526.7 136.4 L1529.1 134.9 L1531.5 133.5 L1533.9 132.1 L1536.3 130.6 L1538.7 129.2 L1541.1 127.8 L1543.5 126.3 L1545.9 124.9 L1548.3 123.5 L1550.7 122.0 L1553.1 120.6 L1555.4 119.2 L1557.8 117.7" stroke="#00B0F0" stroke-width="6" stroke-linecap="butt"/>
<path d="M319.2 1115.5 L319.4 1112.8 L319.6 1110.1 L319.7 1107.4 L319.9 1104.7 L320.0 1102.0 L320.2 1099.3 L320.3 1096.6 L320.4 1093.9 L320.5 1091.2 L320.6 1088.6 L320.7 1085.9 L320.8 1083.2 L320.9 1080.5 L320.9 1077.8 L321.0 1075.1 L321.0 1072.4 L321.1 1069.7 L321.1 1067.0 L321.1 1064.3 L321.1 1061.6 L321.2 1058.9 L321.2 1056.2 L321.2 1053.5 L321.2 1050.9 L321.2 1048.2 L321.1 1045.5 L321.1 1042.8 L321.1 1040.1 L321.1 1037.4 L321.1 1034.7 L321.1 1032.0 L321.0 1029.3 L321.0 1026.6 L321.0 1023.9 L320.9 1021.2 L320.9 1018.5 L320.9 1015.8 L320.9 1013.1 L320.8 1010.4 L320.8 1007.7 L320.8 1005.0 L320.8 1002.3 L320.7 999.6 L320.7 996.9 L320.7 994.2 L320.7 991.5 L320.7 988.8 L320.7 986.1 L320.7 983.4 L320.7 980.7 L320.7 978.0 L320.8 975.3 L320.8 972.6 L320.8 969.9 L320.9 967.2 L320.9 964.5 L321.0 961.8 L321.0 959.1 L321.1 956.4 L321.2 953.7 L321.3 951.0 L321.4 948.3 L321.5 945.6 L321.6 942.9 L321.7 940.2 L321.9 937.5 L322.1 934.8 L322.2 932.1 L322.4 929.4 L322.6 926.7 L322.8 924.0 L323.0 921.3 L323.3 918.6 L323.5 915.9 L323.8 913.2 L324.0 910.5 L324.3 907.8 L324.6 905.1 L324.9 902.4 L325.3 899.7 L325.6 897.0 L326.0 894.3 L326.3 891.6 L326.7 888.9 L327.1 886.2 L327.5 883.6 L328.0 880.9 L328.4 878.2 L328.9 875.5 L329.4 872.9 L329.9 870.2 L330.4 867.6 L330.9 864.9 L331.4 862.3 L332.0 859.6 L332.6 857.0 L333.2 854.3 L333.8 851.7 L334.4 849.1 L335.1 846.5 L335.7 843.9 L336.4 841.2 L337.1 838.6 L337.9 836.1 L338.6 833.5 L339.4 830.9 L340.1 828.3 L340.9 825.8 L341.8 823.2 L342.6 820.6 L343.5 818.1 L344.3 815.6 L345.2 813.0 L346.1 810.5 L347.1 808.0 L348.0 805.5 L349.0 803.0 L350.0 800.5 L351.0 798.1 L352.1 795.6 L353.1 793.2 L354.2 790.7 L355.3 788.3 L356.5 785.9 L357.6 783.4 L358.8 781.0 L360.0 778.7 L361.2 776.3 L362.4 773.9 L363.7 771.6 L365.0 769.2 L366.3 766.9 L367.6 764.6 L369.0 762.2 L370.4 759.9 L371.8 757.7 L373.2 755.4 L374.7 753.1 L376.1 750.9 L377.6 748.6 L379.1 746.4 L380.7 744.2 L382.2 742.0 L383.8 739.8 L385.4 737.7 L387.0 735.5 L388.6 733.3 L390.3 731.2 L391.9 729.1 L393.6 727.0 L395.3 724.9 L397.0 722.8 L398.8 720.7 L400.5 718.7 L402.3 716.6 L404.1 714.6 L405.9 712.6 L407.7 710.6 L409.5 708.6 L411.4 706.6 L413.3 704.7 L415.1 702.7 L417.0 700.8 L418.9 698.9 L420.9 697.0 L422.8 695.1 L424.7 693.2 L426.7 691.3 L428.7 689.5 L430.6 687.6 L432.6 685.8 L434.6 684.0 L436.6 682.2 L438.7 680.4 L440.7 678.6 L442.7 676.8 L444.8 675.1 L446.9 673.3 L448.9 671.6 L451.0 669.8 L453.1 668.1 L455.2 666.4 L457.3 664.7 L459.4 663.0 L461.5 661.3 L463.6 659.6 L465.7 657.9 L467.9 656.3 L470.0 654.6 L472.1 652.9 L474.3 651.3 L476.4 649.6 L478.6 648.0 L480.7 646.4 L482.9 644.7 L485.1 643.1 L487.2 641.5 L489.4 639.9 L491.6 638.3 L493.7 636.7 L495.9 635.1 L498.1 633.5 L500.3 631.9 L502.5 630.3 L504.6 628.7 L506.8 627.1 L509.0 625.5 L511.2 624.0 L513.4 622.4 L515.6 620.8 L517.8 619.3 L520.0 617.7 L522.2 616.2 L524.5 614.6 L526.7 613.1 L528.9 611.5 L531.1 610.0 L533.3 608.5 L535.5 606.9 L537.8 605.4 L540.0 603.9 L542.2 602.4 L544.5 600.8 L546.7 599.3 L548.9 597.8 L551.2 596.3 L553.4 594.8 L555.6 593.3 L557.9 591.8 L560.1 590.3 L562.4 588.8 L564.6 587.3 L566.9 585.8 L569.1 584.3 L571.4 582.8 L573.6 581.4 L575.9 579.9 L578.1 578.4 L580.4 576.9 L582.7 575.5 L584.9 574.0 L587.2 572.5 L589.5 571.0 L591.7 569.6 L594.0 568.1 L596.2 566.6 L598.5 565.2 L600.8 563.7 L603.1 562.3 L605.3 560.8 L607.6 559.4 L609.9 557.9 L612.1 556.4 L614.4 555.0 L616.7 553.5 L619.0 552.1 L621.2 550.6 L623.5 549.2 L625.8 547.7 L628.1 546.3 L630.4 544.9 L632.6 543.4 L634.9 542.0 L637.2 540.5 L639.5 539.1 L641.8 537.6 L644.0 536.2 L646.3 534.7 L648.6 533.3 L650.9 531.9 L653.2 530.4 L655.4 529.0 L657.7 527.5 L660.0 526.1 L662.3 524.7 L664.6 523.2 L666.9 521.8 L669.1 520.4 L671.4 518.9 L673.7 517.5 L676.0 516.0 L678.3 514.6 L680.6 513.2 L682.8 511.7 L685.1 510.3 L687.4 508.9 L689.7 507.4 L692.0 506.0 L694.3 504.6 L696.6 503.1 L698.9 501.7 L701.1 500.3 L703.4 498.8 L705.7 497.4 L708.0 496.0 L710.3 494.6 L712.6 493.1 L714.9 491.7 L717.2 490.3 L719.5 488.8 L721.8 487.4 L724.0 486.0 L726.3 484.6 L728.6 483.1 L730.9 481.7 L733.2 480.3 L735.5 478.9 L737.8 477.4 L740.1 476.0 L742.4 474.6 L744.7 473.2 L747.0 471.7 L749.3 470.3 L751.6 468.9 L753.8 467.5 L756.1 466.1 L758.4 464.6 L760.7 463.2 L763.0 461.8 L765.3 460.4 L767.6 459.0 L769.9 457.5 L772.2 456.1 L774.5 454.7 L776.8 453.3 L779.1 451.9 L781.4 450.4 L783.7 449.0 L786.0 447.6 L788.3 446.2 L790.6 444.8 L792.9 443.4 L795.2 442.0 L797.5 440.5 L799.8 439.1 L802.1 437.7 L804.4 436.3 L806.7 434.9 L809.0 433.5 L811.3 432.1 L813.6 430.6 L815.9 429.2 L818.2 427.8 L820.5 426.4 L822.8 425.0 L825.1 423.6 L827.4 422.2 L829.7 420.8 L832.0 419.4 L834.3 417.9 L836.6 416.5 L838.9 415.1 L841.2 413.7 L843.5 412.3 L845.8 410.9 L848.1 409.5 L850.4 408.1 L852.7 406.7 L855.0 405.3 L857.3 403.9 L859.6 402.5 L861.9 401.1 L864.2 399.7 L866.5 398.3 L868.8 396.8 L871.2 395.4 L873.5 394.0 L875.8 392.6 L878.1 391.2 L880.4 389.8 L882.7 388.4 L885.0 387.0 L887.3 385.6 L889.6 384.2 L891.9 382.8 L894.2 381.4 L896.5 380.0 L898.8 378.6 L901.1 377.2 L903.4 375.8 L905.7 374.4 L908.1 373.0 L910.4 371.6 L912.7 370.2 L915.0 368.8 L917.3 367.4 L919.6 366.0 L921.9 364.6 L924.2 363.2 L926.5 361.8 L928.8 360.4 L931.1 359.0 L933.5 357.6 L935.8 356.2 L938.1 354.8 L940.4 353.4 L942.7 352.0 L945.0 350.6 L947.3 349.2 L949.6 347.8 L951.9 346.4 L954.2 345.0 L956.6 343.6 L958.9 342.3 L961.2 340.9 L963.5 339.5 L965.8 338.1 L968.1 336.7 L970.4 335.3 L972.7 333.9 L975.0 332.5 L977.4 331.1 L979.7 329.7 L982.0 328.3 L984.3 326.9 L986.6 325.5 L988.9 324.1 L991.2 322.7 L993.5 321.3 L995.9 319.9 L998.2 318.6 L1000.5 317.2 L1002.8 315.8 L1005.1 314.4 L1007.4 313.0 L1009.7 311.6 L1012.0 310.2 L1014.4 308.8 L1016.7 307.4 L1019.0 306.0 L1021.3 304.6 L1023.6 303.2 L1025.9 301.9 L1028.2 300.5 L1030.6 299.1 L1032.9 297.7 L1035.2 296.3 L1037.5 294.9 L1039.8 293.5 L1042.1 292.1 L1044.4 290.7 L1046.8 289.3 L1049.1 288.0 L1051.4 286.6 L1053.7 285.2 L1056.0 283.8 L1058.3 282.4 L1060.6 281.0 L1063.0 279.6 L1065.3 278.2 L1067.6 276.8 L1069.9 275.5 L1072.2 274.1 L1074.5 272.7 L1076.9 271.3 L1079.2 269.9 L1081.5 268.5 L1083.8 267.1 L1086.1 265.7 L1088.4 264.3 L1090.7 263.0 L1093.1 261.6 L1095.4 260.2 L1097.7 258.8 L1100.0 257.4 L1102.3 256.0 L1104.6 254.6 L1107.0 253.2 L1109.3 251.9 L1111.6 250.5 L1113.9 249.1 L1116.2 247.7 L1118.5 246.3 L1120.9 244.9 L1123.2 243.5 L1125.5 242.1 L1127.8 240.8 L1130.1 239.4 L1132.4 238.0 L1134.7 236.6 L1137.1 235.2 L1139.4 233.8 L1141.7 232.4 L1144.0 231.0 L1146.3 229.7 L1148.6 228.3 L1151.0 226.9 L1153.3 225.5 L1155.6 224.1 L1157.9 222.7 L1160.2 221.3 L1162.5 220.0 L1164.9 218.6 L1167.2 217.2 L1169.5 215.8 L1171.8 214.4 L1174.1 213.0 L1176.4 211.6 L1178.8 210.2 L1181.1 208.9 L1183.4 207.5 L1185.7 206.1 L1188.0 204.7 L1190.3 203.3 L1192.7 201.9 L1195.0 200.5 L1197.3 199.2 L1199.6 197.8 L1201.9 196.4 L1204.2 195.0 L1206.6 193.6 L1208.9 192.2 L1211.2 190.8 L1213.5 189.4 L1215.8 188.1 L1218.1 186.7 L1220.4 185.3 L1222.8 183.9 L1225.1 182.5 L1227.4 181.1 L1229.7 179.7 L1232.0 178.3 L1234.3 177.0 L1236.7 175.6 L1239.0 174.2 L1241.3 172.8 L1243.6 171.4 L1245.9 170.0 L1248.2 168.6 L1250.5 167.2 L1252.9 165.9 L1255.2 164.5 L1257.5 163.1 L1259.8 161.7 L1262.1 160.3 L1264.4 158.9 L1266.8 157.5 L1269.1 156.1 L1271.4 154.7 L1273.7 153.4 L1276.0 152.0 L1278.3 150.6 L1280.6 149.2 L1283.0 147.8 L1285.3 146.4 L1287.6 145.0 L1289.9 143.6 L1292.2 142.2 L1294.5 140.9 L1296.8 139.5 L1299.1 138.1 L1301.5 136.7 L1303.8 135.3 L1306.1 133.9 L1308.4 132.5 L1310.7 131.1 L1313.0 129.7 L1315.3 128.3 L1317.7 127.0 L1320.0 125.6 L1322.3 124.2 L1324.6 122.8 L1326.9 121.4 L1329.2 120.0 L1331.5 118.6 L1333.8 117.2 L1336.2 115.8 L1338.5 114.4 L1340.8 113.0 L1343.1 111.6 L1345.4 110.2 L1347.7 108.9 L1350.0 107.5 L1352.3 106.1 L1354.6 104.7 L1357.0 103.3 L1359.3 101.9 L1361.6 100.5 L1363.9 99.1 L1366.2 97.7 L1368.5 96.3 L1370.8 94.9 L1373.1 93.5 L1375.4 92.1 L1377.7 90.7 L1380.1 89.3 L1382.4 87.9 L1384.7 86.5 L1387.0 85.1 L1389.3 83.7 L1391.6 82.3 L1393.9 81.0 L1396.2 79.6 L1398.5 78.2 L1400.8 76.8 L1403.1 75.4 L1405.5 74.0 L1407.8 72.6 L1410.1 71.2" stroke="#FF0000" stroke-width="6" stroke-linecap="butt"/>
<path d="M320.0 939.5 H770.0" stroke="#00B0F0" stroke-width="3.2" stroke-linecap="round" stroke-dasharray="17.60 9.40"/>
<path d="M320.0 977.9 H772.2" stroke="#00B0F0" stroke-width="3.8" stroke-linecap="round" stroke-dasharray="4.30 5.50"/>
<path d="M320.0 822.7 H772.0" stroke="#00B0F0" stroke-width="3.8" stroke-linecap="round"/>
</g>
<g font-family="Carlito, 'Liberation Sans', Arial, sans-serif" font-size="72" fill="#000">
<text x="237.6" y="1138.0" text-anchor="end" textLength="36.5" lengthAdjust="spacingAndGlyphs">0</text>
<text x="237.6" y="965.4" text-anchor="end" textLength="72.98" lengthAdjust="spacingAndGlyphs">50</text>
<text x="237.6" y="792.8" text-anchor="end" textLength="109.48" lengthAdjust="spacingAndGlyphs">100</text>
<text x="237.6" y="620.2" text-anchor="end" textLength="109.48" lengthAdjust="spacingAndGlyphs">150</text>
<text x="237.6" y="447.6" text-anchor="end" textLength="109.48" lengthAdjust="spacingAndGlyphs">200</text>
<text x="237.6" y="275.0" text-anchor="end" textLength="109.48" lengthAdjust="spacingAndGlyphs">250</text>
<text x="237.6" y="102.4" text-anchor="end" textLength="109.48" lengthAdjust="spacingAndGlyphs">300</text>
<text x="320.0" y="1228.5" text-anchor="middle" textLength="36.5" lengthAdjust="spacingAndGlyphs">0</text>
<text x="668.0" y="1228.5" text-anchor="middle" textLength="109.48" lengthAdjust="spacingAndGlyphs">100</text>
<text x="1015.9" y="1228.5" text-anchor="middle" textLength="109.48" lengthAdjust="spacingAndGlyphs">200</text>
<text x="1363.8" y="1228.5" text-anchor="middle" textLength="109.48" lengthAdjust="spacingAndGlyphs">300</text>
<text x="1711.8" y="1228.5" text-anchor="middle" textLength="109.48" lengthAdjust="spacingAndGlyphs">400</text>
<text x="1057.6" y="1288.5" text-anchor="start" font-weight="bold" textLength="367.88" lengthAdjust="spacingAndGlyphs">stress (MPa)</text>
<g transform="translate(99.5,872) rotate(-90)"><text x="0.0" y="0.0" text-anchor="start" font-weight="bold" textLength="562.67" lengthAdjust="spacingAndGlyphs">moment (kN·m/m)</text></g>
<path d="M1002.7 600.2 H1131.7" stroke="#000" stroke-width="6" stroke-linecap="round" fill="none"/>
<text x="1145.0" y="622.3" text-anchor="start" textLength="613.48" lengthAdjust="spacingAndGlyphs">333 kN/m-Type-BPos</text>
<path d="M1002.7 678.3 H1131.7" stroke="#00B0F0" stroke-width="6" stroke-linecap="round" fill="none" stroke-dasharray="34.5 19.3"/>
<text x="1145.0" y="700.3" text-anchor="start" textLength="514.09" lengthAdjust="spacingAndGlyphs">667 kN/m-Type-A</text>
<path d="M1002.7 756.4 H1131.7" stroke="#00B0F0" stroke-width="6" stroke-linecap="round" fill="none"/>
<text x="1145.0" y="778.4" text-anchor="start" textLength="613.48" lengthAdjust="spacingAndGlyphs">667 kN/m-Type-BPos</text>
<path d="M1002.7 834.4 H1131.7" stroke="#FF0000" stroke-width="6" stroke-linecap="round" fill="none"/>
<text x="1145.0" y="856.4" text-anchor="start" textLength="649.97" lengthAdjust="spacingAndGlyphs">1000 kN/m-Type-BPos</text>
<path d="M1002.7 912.5 H1131.7" stroke="#00B0F0" stroke-width="3.2" stroke-linecap="round" fill="none" stroke-dasharray="17.60 9.40"/>
<text x="1145.0" y="934.5" text-anchor="start" textLength="998.55" lengthAdjust="spacingAndGlyphs">end of 1st stage-667 kN/m-Type-A</text>
<path d="M1002.7 990.5 H1131.7" stroke="#00B0F0" stroke-width="3.8" stroke-linecap="round" fill="none" stroke-dasharray="4.30 5.50"/>
<text x="1145.0" y="1012.5" text-anchor="start" textLength="1097.94" lengthAdjust="spacingAndGlyphs">end of 1st stage-667 kN/m-Type-BPos</text>
<path d="M1002.7 1068.5 H1131.7" stroke="#00B0F0" stroke-width="3.8" stroke-linecap="round" fill="none"/>
<text x="1145.0" y="1090.6" text-anchor="start" textLength="774.75" lengthAdjust="spacingAndGlyphs">end of 2st stage-667 kN/m</text>
</g>
<g stroke="#868686" stroke-width="4.4" fill="none" stroke-linecap="butt">
<line x1="307.0" y1="1504.3" x2="307.0" y2="2541.5"/>
<line x1="283.5" y1="2541.5" x2="309.2" y2="2541.5"/>
<line x1="283.5" y1="2369.0" x2="309.2" y2="2369.0"/>
<line x1="283.5" y1="2196.5" x2="309.2" y2="2196.5"/>
<line x1="283.5" y1="2024.0" x2="309.2" y2="2024.0"/>
<line x1="283.5" y1="1851.5" x2="309.2" y2="1851.5"/>
<line x1="283.5" y1="1679.0" x2="309.2" y2="1679.0"/>
<line x1="283.5" y1="1506.5" x2="309.2" y2="1506.5"/>
<line x1="283.5" y1="2541.5" x2="1711.6" y2="2541.5"/>
<line x1="307.0" y1="2539.3" x2="307.0" y2="2563.7"/>
<line x1="657.6" y1="2539.3" x2="657.6" y2="2563.7"/>
<line x1="1008.2" y1="2539.3" x2="1008.2" y2="2563.7"/>
<line x1="1358.8" y1="2539.3" x2="1358.8" y2="2563.7"/>
<line x1="1709.4" y1="2539.3" x2="1709.4" y2="2563.7"/>
</g>
<clipPath id="clipb"><rect x="304.9" y="1506.2" width="1408.7" height="1038.3"/></clipPath>
<g clip-path="url(#clipb)" fill="none" stroke-linejoin="round">
<path d="M305.3 2541.0 L305.7 2538.5 L306.0 2535.9 L306.3 2533.3 L306.5 2530.7 L306.7 2528.1 L306.9 2525.5 L307.0 2522.8 L307.0 2520.2 L307.1 2517.5 L307.1 2514.8 L307.1 2512.1 L307.0 2509.4 L306.9 2506.6 L306.8 2503.9 L306.7 2501.1 L306.6 2498.4 L306.5 2495.6 L306.3 2492.8 L306.2 2490.1 L306.0 2487.3 L305.9 2484.5 L305.7 2481.7 L305.6 2478.9 L305.4 2476.1 L305.3 2473.3 L305.2 2470.5 L305.1 2467.7 L305.0 2464.9 L304.9 2462.1 L304.9 2459.3 L304.9 2456.5 L304.9 2453.7 L304.9 2451.0 L305.0 2448.2 L305.1 2445.4 L305.3 2442.7 L305.5 2439.9 L305.7 2437.2 L306.0 2434.5 L306.3 2431.8 L306.7 2429.1 L307.2 2426.4 L307.6 2423.8 L308.2 2421.1 L308.8 2418.5 L309.4 2415.9 L310.1 2413.4 L310.9 2410.8 L311.7 2408.3 L312.6 2405.9 L313.5 2403.4 L314.6 2401.0 L315.6 2398.6 L316.8 2396.3 L318.0 2394.0 L319.3 2391.7 L320.7 2389.5 L322.1 2387.4 L323.6 2385.2 L325.2 2383.1 L326.8 2381.1 L328.5 2379.1 L330.3 2377.1 L332.1 2375.2 L334.0 2373.3 L335.9 2371.4 L337.9 2369.5 L339.9 2367.7 L342.0 2365.9 L344.0 2364.2 L346.2 2362.4 L348.3 2360.7 L350.5 2359.0 L352.7 2357.3 L354.9 2355.7 L357.2 2354.0 L359.5 2352.4 L361.7 2350.8 L364.0 2349.2 L366.3 2347.6 L368.6 2346.0 L370.9 2344.4 L373.2 2342.9 L375.5 2341.3 L377.7 2339.8 L380.0 2338.2 L382.3 2336.7 L384.6 2335.1 L386.9 2333.6 L389.2 2332.1 L391.5 2330.6 L393.8 2329.1 L396.1 2327.6 L398.4 2326.1 L400.7 2324.6 L403.0 2323.2 L405.3 2321.7 L407.6 2320.2 L409.9 2318.8 L412.2 2317.3 L414.5 2315.9 L416.8 2314.4 L419.1 2313.0 L421.4 2311.6 L423.7 2310.1 L426.0 2308.7 L428.3 2307.3 L430.6 2305.9 L433.0 2304.5 L435.3 2303.1 L437.6 2301.7 L439.9 2300.3 L442.3 2298.9 L444.6 2297.5 L446.9 2296.2 L449.3 2294.8 L451.6 2293.4 L453.9 2292.1 L456.3 2290.7 L458.6 2289.3 L461.0 2288.0 L463.3 2286.6 L465.7 2285.3 L468.0 2284.0 L470.4 2282.6 L472.8 2281.3 L475.1 2280.0 L477.5 2278.6 L479.9 2277.3 L482.3 2276.0 L484.6 2274.7 L487.0 2273.3 L489.4 2272.0 L491.8 2270.7 L494.2 2269.4 L496.5 2268.1 L498.9 2266.8 L501.3 2265.5 L503.7 2264.1 L506.1 2262.8 L508.5 2261.5 L510.9 2260.2 L513.3 2258.9 L515.7 2257.6 L518.1 2256.3 L520.4 2255.0 L522.8 2253.7 L525.2 2252.4 L527.6 2251.1 L530.0 2249.8 L532.4 2248.4 L534.8 2247.1 L537.2 2245.8 L539.6 2244.5 L542.0 2243.2 L544.3 2241.9 L546.7 2240.5 L549.1 2239.2 L551.5 2237.9 L553.9 2236.6 L556.3 2235.2 L558.6 2233.9 L561.0 2232.6 L563.4 2231.3 L565.8 2229.9 L568.1 2228.6 L570.5 2227.2 L572.9 2225.9 L575.3 2224.6 L577.6 2223.2 L580.0 2221.9 L582.4 2220.5 L584.7 2219.2 L587.1 2217.9 L589.5 2216.5 L591.8 2215.2 L594.2 2213.8 L596.6 2212.5 L599.0 2211.1 L601.3 2209.8 L603.7 2208.4 L606.1 2207.1 L608.4 2205.8 L610.8 2204.4 L613.2 2203.1 L615.5 2201.7 L617.9 2200.4 L620.3 2199.0 L622.6 2197.7 L625.0 2196.4 L627.4 2195.0 L629.7 2193.7 L632.1 2192.3 L634.5 2191.0 L636.9 2189.7 L639.2 2188.3 L641.6 2187.0 L644.0 2185.7 L646.3 2184.3 L648.7 2183.0 L651.1 2181.7 L653.5 2180.3 L655.9 2179.0 L658.2 2177.7 L660.6 2176.4 L663.0 2175.1 L665.4 2173.7 L667.8 2172.4 L670.1 2171.1 L672.5 2169.8 L674.9 2168.5 L677.3 2167.2 L679.7 2165.8 L682.1 2164.5 L684.5 2163.2 L686.8 2161.9 L689.2 2160.6 L691.6 2159.3 L694.0 2158.0 L696.4 2156.7 L698.8 2155.4 L701.2 2154.1 L703.6 2152.8 L706.0 2151.5 L708.4 2150.2 L710.8 2148.9 L713.2 2147.6 L715.5 2146.3 L717.9 2145.0 L720.3 2143.7 L722.7 2142.4 L725.1 2141.1 L727.5 2139.8 L729.9 2138.5 L732.3 2137.2 L734.7 2135.9 L737.1 2134.7 L739.5 2133.4 L741.9 2132.1 L744.3 2130.8 L746.7 2129.5 L749.1 2128.2 L751.5 2126.9 L753.9 2125.7 L756.3 2124.4 L758.7 2123.1 L761.1 2121.8 L763.5 2120.5 L765.9 2119.2 L768.4 2118.0 L770.8 2116.7 L773.2 2115.4 L775.6 2114.1 L778.0 2112.9 L780.4 2111.6 L782.8 2110.3 L785.2 2109.0 L787.6 2107.7 L790.0 2106.5 L792.4 2105.2 L794.8 2103.9 L797.2 2102.7 L799.6 2101.4 L802.0 2100.1 L804.4 2098.8 L806.9 2097.6 L809.3 2096.3 L811.7 2095.0 L814.1 2093.7 L816.5 2092.5 L818.9 2091.2 L821.3 2089.9 L823.7 2088.7 L826.1 2087.4 L828.5 2086.1 L830.9 2084.8 L833.4 2083.6 L835.8 2082.3 L838.2 2081.0 L840.6 2079.8 L843.0 2078.5 L845.4 2077.2 L847.8 2076.0 L850.2 2074.7 L852.6 2073.4 L855.0 2072.2 L857.5 2070.9 L859.9 2069.6 L862.3 2068.3 L864.7 2067.1 L867.1 2065.8 L869.5 2064.5 L871.9 2063.3 L874.3 2062.0 L876.7 2060.7 L879.1 2059.5 L881.6 2058.2 L884.0 2056.9 L886.4 2055.7 L888.8 2054.4 L891.2 2053.1 L893.6 2051.9 L896.0 2050.6 L898.4 2049.3 L900.8 2048.1 L903.3 2046.8 L905.7 2045.5 L908.1 2044.3 L910.5 2043.0 L912.9 2041.7 L915.3 2040.5 L917.7 2039.2 L920.1 2037.9 L922.5 2036.7 L925.0 2035.4 L927.4 2034.1 L929.8 2032.9 L932.2 2031.6 L934.6 2030.3 L937.0 2029.1 L939.4 2027.8 L941.8 2026.5 L944.2 2025.3 L946.7 2024.0 L949.1 2022.7 L951.5 2021.5 L953.9 2020.2 L956.3 2019.0 L958.7 2017.7 L961.1 2016.4 L963.5 2015.2 L965.9 2013.9 L968.4 2012.6 L970.8 2011.4 L973.2 2010.1 L975.6 2008.8 L978.0 2007.6 L980.4 2006.3 L982.8 2005.0 L985.2 2003.8 L987.6 2002.5 L990.1 2001.2 L992.5 2000.0 L994.9 1998.7 L997.3 1997.4 L999.7 1996.2 L1002.1 1994.9 L1004.5 1993.6 L1006.9 1992.4 L1009.3 1991.1 L1011.8 1989.8 L1014.2 1988.6 L1016.6 1987.3 L1019.0 1986.0 L1021.4 1984.8 L1023.8 1983.5 L1026.2 1982.2 L1028.6 1981.0 L1031.0 1979.7 L1033.5 1978.4 L1035.9 1977.2 L1038.3 1975.9 L1040.7 1974.6 L1043.1 1973.4 L1045.5 1972.1 L1047.9 1970.8 L1050.3 1969.6 L1052.7 1968.3 L1055.1 1967.0 L1057.6 1965.8 L1060.0 1964.5 L1062.4 1963.2 L1064.8 1962.0 L1067.2 1960.7 L1069.6 1959.4 L1072.0 1958.2 L1074.4 1956.9 L1076.8 1955.6 L1079.2 1954.4 L1081.7 1953.1 L1084.1 1951.8 L1086.5 1950.5 L1088.9 1949.3 L1091.3 1948.0 L1093.7 1946.7 L1096.1 1945.5 L1098.5 1944.2 L1100.9 1942.9 L1103.3 1941.7 L1105.7 1940.4 L1108.1 1939.1 L1110.6 1937.8 L1113.0 1936.6 L1115.4 1935.3 L1117.8 1934.0 L1120.2 1932.8 L1122.6 1931.5 L1125.0 1930.2 L1127.4 1928.9 L1129.8 1927.7 L1132.2 1926.4 L1134.6 1925.1 L1137.0 1923.8 L1139.4 1922.6 L1141.9 1921.3 L1144.3 1920.0 L1146.7 1918.8 L1149.1 1917.5 L1151.5 1916.2 L1153.9 1914.9 L1156.3 1913.7 L1158.7 1912.4 L1161.1 1911.1 L1163.5 1909.8 L1165.9 1908.6 L1168.3 1907.3 L1170.7 1906.0 L1173.1 1904.7 L1175.5 1903.4 L1177.9 1902.2 L1180.3 1900.9 L1182.8 1899.6 L1185.2 1898.3 L1187.6 1897.1 L1190.0 1895.8 L1192.4 1894.5 L1194.8 1893.2 L1197.2 1891.9 L1199.6 1890.7 L1202.0 1889.4 L1204.4 1888.1 L1206.8 1886.8 L1209.2 1885.5 L1211.6 1884.3 L1214.0 1883.0 L1216.4 1881.7 L1218.8 1880.4 L1221.2 1879.1 L1223.6 1877.8 L1226.0 1876.6 L1228.4 1875.3 L1230.8 1874.0 L1233.2 1872.7 L1235.6 1871.4 L1238.0 1870.1 L1240.4 1868.9 L1242.8 1867.6 L1245.2 1866.3 L1247.6 1865.0 L1250.0 1863.7 L1252.4 1862.4 L1254.8 1861.1 L1257.2 1859.9 L1259.6 1858.6 L1262.0 1857.3 L1264.4 1856.0 L1266.8 1854.7 L1269.2 1853.4 L1271.6 1852.1 L1274.0 1850.9 L1276.4 1849.6 L1278.8 1848.3 L1281.2 1847.0 L1283.6 1845.7 L1286.0 1844.4 L1288.4 1843.1 L1290.8 1841.9 L1293.2 1840.6 L1295.6 1839.3 L1298.0 1838.0 L1300.4 1836.7 L1302.8 1835.4 L1305.2 1834.2 L1307.7 1832.9 L1310.1 1831.6 L1312.5 1830.3 L1314.9 1829.0 L1317.3 1827.8 L1319.7 1826.5 L1322.1 1825.2 L1324.5 1823.9 L1326.9 1822.6 L1329.3 1821.4 L1331.7 1820.1 L1334.1 1818.8 L1336.5 1817.6 L1338.9 1816.3 L1341.3 1815.0 L1343.7 1813.7 L1346.1 1812.5 L1348.6 1811.2 L1351.0 1809.9 L1353.4 1808.7 L1355.8 1807.4 L1358.2 1806.1 L1360.6 1804.9 L1363.0 1803.6 L1365.4 1802.3 L1367.9 1801.1 L1370.3 1799.8 L1372.7 1798.6 L1375.1 1797.3 L1377.5 1796.1 L1379.9 1794.8 L1382.4 1793.6 L1384.8 1792.3 L1387.2 1791.1 L1389.6 1789.8 L1392.0 1788.6 L1394.5 1787.3 L1396.9 1786.1 L1399.3 1784.8 L1401.7 1783.6 L1404.2 1782.4 L1406.6 1781.1 L1409.0 1779.9 L1411.4 1778.7 L1413.9 1777.4 L1416.3 1776.2 L1418.7 1775.0 L1421.2 1773.7 L1423.6 1772.5 L1426.0 1771.3 L1428.5 1770.1 L1430.9 1768.9 L1433.3 1767.6 L1435.8 1766.4 L1438.2 1765.2 L1440.6 1764.0 L1443.1 1762.8 L1445.5 1761.6 L1448.0 1760.4 L1450.4 1759.2 L1452.8 1758.0 L1455.3 1756.8 L1457.7 1755.6 L1460.2 1754.4 L1462.6 1753.1 L1465.1 1751.9 L1467.5 1750.7 L1470.0 1749.5 L1472.4 1748.3 L1474.8 1747.1 L1477.3 1745.9 L1479.7 1744.7 L1482.2 1743.5 L1484.6 1742.3 L1487.1 1741.1 L1489.5 1739.9 L1492.0 1738.7 L1494.4 1737.5 L1496.8 1736.3 L1499.3 1735.1 L1501.7 1733.9 L1504.2 1732.7 L1506.6 1731.5 L1509.0 1730.3 L1511.5 1729.0 L1513.9 1727.8 L1516.3 1726.6 L1518.8 1725.4 L1521.2 1724.1 L1523.6 1722.9 L1526.1 1721.7 L1528.5 1720.5 L1530.9 1719.2 L1533.3 1718.0 L1535.8 1716.7 L1538.2 1715.5 L1540.6 1714.2 L1543.0 1713.0 L1545.4 1711.7 L1547.8 1710.5 L1550.3 1709.2 L1552.7 1707.9 L1555.1 1706.7 L1557.5 1705.4 L1559.9 1704.1 L1562.3 1702.8 L1564.7 1701.5 L1567.1 1700.2 L1569.5 1698.9 L1571.9 1697.6 L1574.3 1696.3 L1576.6 1695.0 L1579.0 1693.7 L1581.4 1692.3 L1583.8 1691.0 L1586.2 1689.7 L1588.5 1688.3 L1590.9 1687.0 L1593.3 1685.6 L1595.6 1684.3 L1598.0 1682.9 L1600.3 1681.5 L1602.7 1680.1 L1605.0 1678.7 L1607.4 1677.3 L1609.7 1675.9" stroke="#000" stroke-width="6" stroke-linecap="round"/>
<path d="M305.8 2541.5 L305.7 2538.5 L305.6 2535.4 L305.5 2532.3 L305.4 2529.2 L305.3 2526.2 L305.3 2523.1 L305.2 2520.0 L305.2 2516.9 L305.2 2513.9 L305.1 2510.8 L305.1 2507.7 L305.1 2504.7 L305.1 2501.6 L305.2 2498.5 L305.2 2495.5 L305.2 2492.4 L305.2 2489.3 L305.3 2486.3 L305.3 2483.2 L305.4 2480.2 L305.4 2477.1 L305.5 2474.0 L305.5 2471.0 L305.6 2467.9 L305.7 2464.9 L305.7 2461.8 L305.8 2458.7 L305.8 2455.7 L305.9 2452.6 L306.0 2449.6 L306.0 2446.5 L306.1 2443.5 L306.1 2440.4 L306.1 2437.3 L306.2 2434.3 L306.2 2431.2 L306.2 2428.2 L306.2 2425.1 L306.2 2422.1 L306.2 2419.0 L306.2 2415.9 L306.2 2412.9 L306.2 2409.8 L306.2 2406.8 L306.1 2403.7 L306.1 2400.6 L306.0 2397.6 L306.0 2394.5 L305.9 2391.4 L305.8 2388.4 L305.8 2385.3 L305.7 2382.2 L305.6 2379.2 L305.6 2376.1 L305.5 2373.0 L305.4 2370.0 L305.4 2366.9 L305.3 2363.8 L305.2 2360.7 L305.2 2357.7 L305.1 2354.6 L305.0 2351.5 L305.0 2348.4 L304.9 2345.3 L304.9 2342.2 L304.9 2339.2 L304.8 2336.1 L304.8 2333.0 L304.8 2329.9 L304.8 2326.8 L304.8 2323.7 L304.8 2320.6 L304.9 2317.5 L304.9 2314.4 L305.0 2311.3 L305.0 2308.2 L305.1 2305.1 L305.2 2302.0 L305.4 2298.9 L305.6 2295.8 L305.8 2292.7 L306.1 2289.7 L306.4 2286.6 L306.7 2283.6 L307.1 2280.6 L307.6 2277.6 L308.1 2274.6 L308.7 2271.6 L309.3 2268.7 L310.0 2265.8 L310.8 2262.9 L311.7 2260.1 L312.6 2257.3 L313.7 2254.5 L314.8 2251.7 L316.0 2249.0 L317.3 2246.3 L318.6 2243.7 L320.1 2241.1 L321.6 2238.5 L323.2 2236.0 L324.8 2233.5 L326.5 2231.0 L328.2 2228.6 L330.0 2226.2 L331.9 2223.9 L333.8 2221.6 L335.8 2219.3 L337.8 2217.1 L339.8 2214.9 L341.9 2212.8 L344.0 2210.7 L346.2 2208.6 L348.4 2206.5 L350.6 2204.5 L352.9 2202.5 L355.2 2200.6 L357.6 2198.7 L360.0 2196.8 L362.4 2194.9 L364.8 2193.1 L367.3 2191.2 L369.8 2189.5 L372.3 2187.7 L374.8 2186.0 L377.4 2184.2 L380.0 2182.6 L382.6 2180.9 L385.2 2179.2 L387.8 2177.6 L390.5 2176.0 L393.2 2174.4 L395.9 2172.8 L398.6 2171.2 L401.3 2169.7 L404.0 2168.1 L406.7 2166.6 L409.4 2165.1 L412.2 2163.6 L414.9 2162.1 L417.7 2160.6 L420.4 2159.1 L423.2 2157.7 L425.9 2156.2 L428.7 2154.7 L431.4 2153.3 L434.2 2151.8 L436.9 2150.4 L439.7 2149.0 L442.4 2147.5 L445.2 2146.1 L447.9 2144.7 L450.7 2143.3 L453.5 2141.9 L456.2 2140.5 L459.0 2139.1 L461.7 2137.8 L464.5 2136.4 L467.3 2135.0 L470.0 2133.7 L472.8 2132.3 L475.6 2131.0 L478.3 2129.6 L481.1 2128.3 L483.9 2126.9 L486.6 2125.6 L489.4 2124.3 L492.2 2123.0 L494.9 2121.6 L497.7 2120.3 L500.5 2119.0 L503.3 2117.7 L506.0 2116.4 L508.8 2115.1 L511.6 2113.8 L514.4 2112.5 L517.1 2111.3 L519.9 2110.0 L522.7 2108.7 L525.5 2107.4 L528.3 2106.2 L531.0 2104.9 L533.8 2103.7 L536.6 2102.4 L539.4 2101.2 L542.2 2099.9 L545.0 2098.7 L547.7 2097.4 L550.5 2096.2 L553.3 2094.9 L556.1 2093.7 L558.9 2092.5 L561.7 2091.2 L564.5 2090.0 L567.3 2088.8 L570.0 2087.6 L572.8 2086.3 L575.6 2085.1 L578.4 2083.9 L581.2 2082.7 L584.0 2081.5 L586.8 2080.2 L589.6 2079.0 L592.4 2077.8 L595.2 2076.6 L598.0 2075.4 L600.8 2074.2 L603.6 2073.0 L606.4 2071.8 L609.2 2070.6 L612.0 2069.4 L614.8 2068.2 L617.6 2067.0 L620.4 2065.8 L623.2 2064.6 L626.0 2063.4 L628.8 2062.2 L631.6 2061.0 L634.5 2059.8 L637.3 2058.6 L640.1 2057.4 L642.9 2056.2 L645.7 2055.0 L648.5 2053.8 L651.3 2052.6 L654.1 2051.4 L656.9 2050.1 L659.7 2048.9 L662.6 2047.7 L665.4 2046.5 L668.2 2045.3 L671.0 2044.1 L673.8 2042.9 L676.6 2041.7 L679.5 2040.5 L682.3 2039.3 L685.1 2038.1 L687.9 2036.9 L690.7 2035.7 L693.6 2034.5 L696.4 2033.3 L699.2 2032.1 L702.0 2030.9 L704.8 2029.7 L707.7 2028.5 L710.5 2027.3 L713.3 2026.1 L716.1 2024.9 L719.0 2023.7 L721.8 2022.5 L724.6 2021.3 L727.4 2020.2 L730.3 2019.0 L733.1 2017.8 L735.9 2016.6 L738.7 2015.4 L741.6 2014.2 L744.4 2013.0 L747.2 2011.8 L750.1 2010.6 L752.9 2009.4 L755.7 2008.2 L758.6 2007.0 L761.4 2005.8 L764.2 2004.7 L767.1 2003.5 L769.9 2002.3 L772.7 2001.1 L775.6 1999.9 L778.4 1998.7 L781.2 1997.6 L784.1 1996.4 L786.9 1995.2 L789.7 1994.0 L792.6 1992.8 L795.4 1991.7 L798.2 1990.5 L801.1 1989.3 L803.9 1988.1 L806.7 1987.0 L809.6 1985.8 L812.4 1984.6 L815.3 1983.4 L818.1 1982.3 L820.9 1981.1 L823.8 1979.9 L826.6 1978.8 L829.5 1977.6 L832.3 1976.4 L835.1 1975.3 L838.0 1974.1 L840.8 1972.9 L843.7 1971.8 L846.5 1970.6 L849.4 1969.5 L852.2 1968.3 L855.0 1967.2 L857.9 1966.0 L860.7 1964.9 L863.6 1963.7 L866.4 1962.6 L869.3 1961.4 L872.1 1960.3 L874.9 1959.1 L877.8 1958.0 L880.6 1956.8 L883.5 1955.7 L886.3 1954.5 L889.2 1953.4 L892.0 1952.3 L894.9 1951.1 L897.7 1950.0 L900.6 1948.8 L903.4 1947.7 L906.3 1946.6 L909.1 1945.4 L912.0 1944.3 L914.8 1943.2 L917.7 1942.0 L920.5 1940.9 L923.3 1939.8 L926.2 1938.6 L929.0 1937.5 L931.9 1936.4 L934.7 1935.3 L937.6 1934.1 L940.4 1933.0 L943.3 1931.9 L946.1 1930.8 L949.0 1929.6 L951.9 1928.5 L954.7 1927.4 L957.6 1926.3 L960.4 1925.1 L963.3 1924.0 L966.1 1922.9 L969.0 1921.8 L971.8 1920.7 L974.7 1919.6 L977.5 1918.4 L980.4 1917.3 L983.2 1916.2 L986.1 1915.1 L988.9 1914.0 L991.8 1912.9 L994.6 1911.8 L997.5 1910.6 L1000.3 1909.5 L1003.2 1908.4 L1006.1 1907.3 L1008.9 1906.2 L1011.8 1905.1 L1014.6 1904.0 L1017.5 1902.9 L1020.3 1901.8 L1023.2 1900.7 L1026.0 1899.6 L1028.9 1898.4 L1031.8 1897.3 L1034.6 1896.2 L1037.5 1895.1 L1040.3 1894.0 L1043.2 1892.9 L1046.0 1891.8 L1048.9 1890.7 L1051.7 1889.6 L1054.6 1888.5 L1057.5 1887.4 L1060.3 1886.3 L1063.2 1885.2 L1066.0 1884.1 L1068.9 1883.0 L1071.7 1881.9 L1074.6 1880.8 L1077.5 1879.7 L1080.3 1878.6 L1083.2 1877.5 L1086.0 1876.4 L1088.9 1875.3 L1091.8 1874.2 L1094.6 1873.1 L1097.5 1872.0 L1100.3 1870.9 L1103.2 1869.8 L1106.0 1868.7 L1108.9 1867.6 L1111.8 1866.5 L1114.6 1865.4 L1117.5 1864.3 L1120.3 1863.2 L1123.2 1862.1 L1126.1 1861.0 L1128.9 1859.9 L1131.8 1858.8 L1134.6 1857.7 L1137.5 1856.6 L1140.4 1855.5 L1143.2 1854.4 L1146.1 1853.3 L1148.9 1852.2 L1151.8 1851.1 L1154.6 1850.0 L1157.5 1848.9 L1160.4 1847.8 L1163.2 1846.7 L1166.1 1845.7 L1168.9 1844.6 L1171.8 1843.5 L1174.7 1842.4 L1177.5 1841.3 L1180.4 1840.2 L1183.2 1839.1 L1186.1 1838.0 L1189.0 1836.9 L1191.8 1835.8 L1194.7 1834.7 L1197.5 1833.6 L1200.4 1832.5 L1203.3 1831.4 L1206.1 1830.3 L1209.0 1829.2 L1211.8 1828.1 L1214.7 1827.0 L1217.6 1825.9 L1220.4 1824.8 L1223.3 1823.7 L1226.1 1822.6 L1229.0 1821.5 L1231.9 1820.3 L1234.7 1819.2 L1237.6 1818.1 L1240.4 1817.0 L1243.3 1815.9 L1246.2 1814.8 L1249.0 1813.7 L1251.9 1812.6 L1254.7 1811.5 L1257.6 1810.4 L1260.4 1809.3 L1263.3 1808.2 L1266.2 1807.1 L1269.0 1806.0 L1271.9 1804.9 L1274.7 1803.8 L1277.6 1802.6 L1280.5 1801.5 L1283.3 1800.4 L1286.2 1799.3 L1289.0 1798.2 L1291.9 1797.1 L1294.7 1796.0 L1297.6 1794.9 L1300.5 1793.7 L1303.3 1792.6 L1306.2 1791.5 L1309.0 1790.4 L1311.9 1789.3 L1314.8 1788.2 L1317.6 1787.1 L1320.5 1785.9 L1323.3 1784.8 L1326.2 1783.7 L1329.0 1782.6 L1331.9 1781.5 L1334.8 1780.4 L1337.6 1779.3 L1340.5 1778.1 L1343.3 1777.0 L1346.2 1775.9 L1349.1 1774.8 L1351.9 1773.7 L1354.8 1772.6 L1357.6 1771.5 L1360.5 1770.4 L1363.4 1769.3 L1366.2 1768.2 L1369.1 1767.1 L1372.0 1766.0 L1374.8 1764.9 L1377.7 1763.8 L1380.5 1762.7 L1383.4 1761.6 L1386.3 1760.5 L1389.1 1759.4 L1392.0 1758.3 L1394.9 1757.2 L1397.7 1756.1 L1400.6 1755.0 L1403.5 1753.9 L1406.3 1752.8 L1409.2 1751.8 L1412.1 1750.7 L1414.9 1749.6 L1417.8 1748.5 L1420.7 1747.5 L1423.5 1746.4 L1426.4 1745.3 L1429.3 1744.2 L1432.1 1743.2 L1435.0 1742.1 L1437.9 1741.1 L1440.8 1740.0 L1443.6 1739.0 L1446.5 1737.9 L1449.4 1736.8 L1452.3 1735.8 L1455.1 1734.8 L1458.0 1733.7 L1460.9 1732.7 L1463.8 1731.6 L1466.7 1730.6 L1469.5 1729.6 L1472.4 1728.5 L1475.3 1727.5 L1478.2 1726.5 L1481.1 1725.5 L1484.0 1724.5 L1486.9 1723.4 L1489.7 1722.4 L1492.6 1721.4 L1495.5 1720.4 L1498.4 1719.4 L1501.3 1718.4 L1504.2 1717.4 L1507.1 1716.4 L1510.0 1715.4 L1512.9 1714.4 L1515.8 1713.4 L1518.7 1712.4 L1521.6 1711.5 L1524.5 1710.5 L1527.4 1709.5 L1530.3 1708.5 L1533.2 1707.6 L1536.1 1706.6 L1539.0 1705.6 L1541.9 1704.6 L1544.9 1703.7 L1547.8 1702.7 L1550.7 1701.7 L1553.6 1700.8 L1556.5 1699.8 L1559.4 1698.8 L1562.3 1697.8 L1565.2 1696.9 L1568.1 1695.9 L1571.0 1694.9 L1573.9 1694.0 L1576.8 1693.0 L1579.8 1692.0 L1582.7 1691.0 L1585.6 1690.1 L1588.5 1689.1 L1591.4 1688.1 L1594.3 1687.1 L1597.2 1686.1 L1600.1 1685.1 L1603.0 1684.1 L1605.9 1683.1 L1608.8 1682.1 L1611.7 1681.1 L1614.6 1680.1 L1617.5 1679.1 L1620.4 1678.1 L1623.2 1677.1 L1626.1 1676.0 L1629.0 1675.0 L1631.9 1674.0 L1634.8 1672.9 L1637.7 1671.9 L1640.5 1670.8 L1643.4 1669.8 L1646.3 1668.7 L1649.2 1667.6 L1652.0 1666.6 L1654.9 1665.5 L1657.8 1664.4 L1660.6 1663.3 L1663.5 1662.2 L1666.3 1661.1 L1669.2 1659.9 L1672.0 1658.8 L1674.9 1657.7 L1677.7 1656.5 L1680.6 1655.4 L1683.4 1654.2 L1686.2 1653.1 L1689.0 1651.9 L1691.9 1650.7 L1694.7 1649.5 L1697.5 1648.3 L1700.3 1647.1 L1703.1 1645.8 L1705.9 1644.6 L1708.7 1643.4 L1711.5 1642.1 L1714.3 1640.8 L1717.1 1639.6 L1719.9 1638.3" stroke="#00B0F0" stroke-width="6" stroke-linecap="round" stroke-dasharray="34.8 19.6" stroke-dashoffset="53.13"/>
<path d="M305.6 2541.5 L305.6 2538.4 L305.5 2535.4 L305.5 2532.3 L305.5 2529.3 L305.4 2526.2 L305.4 2523.2 L305.4 2520.1 L305.4 2517.0 L305.4 2514.0 L305.4 2510.9 L305.4 2507.9 L305.4 2504.8 L305.4 2501.7 L305.4 2498.7 L305.4 2495.6 L305.4 2492.6 L305.4 2489.5 L305.5 2486.4 L305.5 2483.4 L305.5 2480.3 L305.5 2477.2 L305.6 2474.2 L305.6 2471.1 L305.6 2468.0 L305.6 2465.0 L305.7 2461.9 L305.7 2458.9 L305.7 2455.8 L305.7 2452.7 L305.8 2449.7 L305.8 2446.6 L305.8 2443.6 L305.8 2440.5 L305.8 2437.5 L305.9 2434.4 L305.9 2431.4 L305.9 2428.3 L305.9 2425.3 L305.9 2422.2 L305.9 2419.2 L305.9 2416.2 L305.8 2413.1 L305.8 2410.1 L305.8 2407.0 L305.8 2404.0 L305.8 2401.0 L305.7 2397.9 L305.7 2394.9 L305.7 2391.9 L305.7 2388.8 L305.7 2385.8 L305.6 2382.7 L305.6 2379.7 L305.6 2376.6 L305.6 2373.6 L305.6 2370.5 L305.6 2367.4 L305.6 2364.4 L305.6 2361.3 L305.6 2358.2 L305.6 2355.1 L305.6 2352.0 L305.6 2348.9 L305.7 2345.8 L305.7 2342.7 L305.8 2339.6 L305.9 2336.4 L306.0 2333.3 L306.1 2330.2 L306.2 2327.1 L306.4 2324.0 L306.6 2320.9 L306.9 2317.8 L307.2 2314.7 L307.6 2311.6 L308.0 2308.6 L308.4 2305.5 L308.9 2302.5 L309.5 2299.6 L310.2 2296.6 L310.8 2293.7 L311.6 2290.7 L312.4 2287.8 L313.3 2285.0 L314.2 2282.1 L315.2 2279.3 L316.2 2276.5 L317.2 2273.7 L318.4 2270.9 L319.5 2268.2 L320.8 2265.5 L322.0 2262.8 L323.4 2260.1 L324.7 2257.4 L326.1 2254.8 L327.6 2252.2 L329.1 2249.6 L330.6 2247.0 L332.2 2244.4 L333.8 2241.9 L335.5 2239.4 L337.2 2236.9 L338.9 2234.4 L340.7 2232.0 L342.5 2229.5 L344.3 2227.1 L346.2 2224.7 L348.1 2222.3 L350.0 2220.0 L352.0 2217.6 L354.0 2215.3 L356.1 2213.0 L358.1 2210.8 L360.2 2208.5 L362.3 2206.3 L364.5 2204.0 L366.6 2201.8 L368.8 2199.7 L371.0 2197.5 L373.3 2195.3 L375.5 2193.2 L377.8 2191.1 L380.1 2189.0 L382.4 2187.0 L384.7 2184.9 L387.1 2182.9 L389.5 2180.9 L391.8 2178.9 L394.2 2176.9 L396.6 2174.9 L399.0 2173.0 L401.5 2171.1 L403.9 2169.1 L406.4 2167.3 L408.8 2165.4 L411.3 2163.5 L413.8 2161.7 L416.2 2159.9 L418.7 2158.1 L421.2 2156.3 L423.7 2154.5 L426.2 2152.7 L428.7 2151.0 L431.2 2149.3 L433.7 2147.6 L436.2 2145.8 L438.8 2144.2 L441.3 2142.5 L443.8 2140.8 L446.4 2139.1 L448.9 2137.5 L451.5 2135.9 L454.0 2134.2 L456.6 2132.6 L459.2 2131.0 L461.7 2129.4 L464.3 2127.8 L466.9 2126.2 L469.5 2124.6 L472.0 2123.0 L474.6 2121.5 L477.2 2119.9 L479.8 2118.3 L482.4 2116.7 L485.0 2115.2 L487.6 2113.6 L490.2 2112.1 L492.8 2110.5 L495.5 2108.9 L498.1 2107.4 L500.7 2105.8 L503.3 2104.3 L505.9 2102.7 L508.6 2101.2 L511.2 2099.6 L513.8 2098.1 L516.5 2096.5 L519.1 2095.0 L521.7 2093.4 L524.4 2091.9 L527.0 2090.3 L529.7 2088.8 L532.3 2087.3 L535.0 2085.7 L537.6 2084.2 L540.3 2082.6 L542.9 2081.1 L545.6 2079.6 L548.2 2078.0 L550.9 2076.5 L553.5 2075.0 L556.2 2073.4 L558.9 2071.9 L561.5 2070.4 L564.2 2068.8 L566.8 2067.3 L569.5 2065.8 L572.2 2064.3 L574.8 2062.8 L577.5 2061.2 L580.2 2059.7 L582.8 2058.2 L585.5 2056.7 L588.2 2055.2 L590.8 2053.7 L593.5 2052.2 L596.2 2050.6 L598.8 2049.1 L601.5 2047.6 L604.2 2046.1 L606.8 2044.6 L609.5 2043.1 L612.2 2041.6 L614.8 2040.1 L617.5 2038.6 L620.2 2037.1 L622.8 2035.6 L625.5 2034.1 L628.2 2032.6 L630.9 2031.1 L633.5 2029.6 L636.2 2028.1 L638.9 2026.7 L641.5 2025.2 L644.2 2023.7 L646.9 2022.2 L649.6 2020.7 L652.2 2019.2 L654.9 2017.7 L657.6 2016.2 L660.3 2014.8 L662.9 2013.3 L665.6 2011.8 L668.3 2010.3 L671.0 2008.8 L673.6 2007.4 L676.3 2005.9 L679.0 2004.4 L681.7 2002.9 L684.3 2001.5 L687.0 2000.0 L689.7 1998.5 L692.4 1997.0 L695.1 1995.6 L697.7 1994.1 L700.4 1992.6 L703.1 1991.1 L705.8 1989.7 L708.4 1988.2 L711.1 1986.7 L713.8 1985.3 L716.5 1983.8 L719.2 1982.3 L721.8 1980.9 L724.5 1979.4 L727.2 1977.9 L729.9 1976.4 L732.6 1975.0 L735.2 1973.5 L737.9 1972.0 L740.6 1970.6 L743.3 1969.1 L746.0 1967.7 L748.7 1966.2 L751.3 1964.7 L754.0 1963.3 L756.7 1961.8 L759.4 1960.3 L762.1 1958.9 L764.8 1957.4 L767.4 1955.9 L770.1 1954.5 L772.8 1953.0 L775.5 1951.5 L778.2 1950.1 L780.9 1948.6 L783.5 1947.2 L786.2 1945.7 L788.9 1944.2 L791.6 1942.8 L794.3 1941.3 L797.0 1939.8 L799.6 1938.4 L802.3 1936.9 L805.0 1935.5 L807.7 1934.0 L810.4 1932.5 L813.1 1931.1 L815.8 1929.6 L818.4 1928.1 L821.1 1926.7 L823.8 1925.2 L826.5 1923.8 L829.2 1922.3 L831.9 1920.8 L834.6 1919.4 L837.2 1917.9 L839.9 1916.5 L842.6 1915.0 L845.3 1913.5 L848.0 1912.1 L850.7 1910.6 L853.4 1909.2 L856.1 1907.7 L858.7 1906.3 L861.4 1904.8 L864.1 1903.3 L866.8 1901.9 L869.5 1900.4 L872.2 1899.0 L874.9 1897.5 L877.6 1896.1 L880.3 1894.6 L882.9 1893.1 L885.6 1891.7 L888.3 1890.2 L891.0 1888.8 L893.7 1887.3 L896.4 1885.9 L899.1 1884.4 L901.8 1883.0 L904.5 1881.5 L907.2 1880.1 L909.9 1878.6 L912.5 1877.2 L915.2 1875.7 L917.9 1874.3 L920.6 1872.8 L923.3 1871.4 L926.0 1869.9 L928.7 1868.4 L931.4 1867.0 L934.1 1865.5 L936.8 1864.1 L939.5 1862.7 L942.2 1861.2 L944.9 1859.8 L947.6 1858.3 L950.3 1856.9 L953.0 1855.4 L955.6 1854.0 L958.3 1852.5 L961.0 1851.1 L963.7 1849.6 L966.4 1848.2 L969.1 1846.7 L971.8 1845.3 L974.5 1843.8 L977.2 1842.4 L979.9 1841.0 L982.6 1839.5 L985.3 1838.1 L988.0 1836.6 L990.7 1835.2 L993.4 1833.7 L996.1 1832.3 L998.8 1830.9 L1001.5 1829.4 L1004.2 1828.0 L1006.9 1826.5 L1009.6 1825.1 L1012.3 1823.7 L1015.0 1822.2 L1017.7 1820.8 L1020.4 1819.3 L1023.1 1817.9 L1025.8 1816.5 L1028.5 1815.0 L1031.2 1813.6 L1033.9 1812.2 L1036.6 1810.7 L1039.3 1809.3 L1042.0 1807.9 L1044.7 1806.4 L1047.4 1805.0 L1050.1 1803.6 L1052.8 1802.1 L1055.5 1800.7 L1058.2 1799.3 L1060.9 1797.8 L1063.6 1796.4 L1066.3 1795.0 L1069.0 1793.5 L1071.7 1792.1 L1074.5 1790.7 L1077.2 1789.3 L1079.9 1787.8 L1082.6 1786.4 L1085.3 1785.0 L1088.0 1783.6 L1090.7 1782.1 L1093.4 1780.7 L1096.1 1779.3 L1098.8 1777.9 L1101.5 1776.4 L1104.2 1775.0 L1106.9 1773.6 L1109.6 1772.2 L1112.4 1770.7 L1115.1 1769.3 L1117.8 1767.9 L1120.5 1766.5 L1123.2 1765.1 L1125.9 1763.6 L1128.6 1762.2 L1131.3 1760.8 L1134.0 1759.4 L1136.7 1758.0 L1139.5 1756.6 L1142.2 1755.1 L1144.9 1753.7 L1147.6 1752.3 L1150.3 1750.9 L1153.0 1749.5 L1155.7 1748.1 L1158.4 1746.7 L1161.2 1745.3 L1163.9 1743.8 L1166.6 1742.4 L1169.3 1741.0 L1172.0 1739.6 L1174.7 1738.2 L1177.4 1736.8 L1180.2 1735.4 L1182.9 1734.0 L1185.6 1732.6 L1188.3 1731.2 L1191.0 1729.8 L1193.7 1728.4 L1196.5 1727.0 L1199.2 1725.6 L1201.9 1724.2 L1204.6 1722.8 L1207.3 1721.4 L1210.0 1720.0 L1212.8 1718.6 L1215.5 1717.2 L1218.2 1715.8 L1220.9 1714.4 L1223.6 1713.0 L1226.4 1711.6 L1229.1 1710.2 L1231.8 1708.8 L1234.5 1707.4 L1237.2 1706.0 L1240.0 1704.6 L1242.7 1703.2 L1245.4 1701.8 L1248.1 1700.4 L1250.9 1699.0 L1253.6 1697.6 L1256.3 1696.3 L1259.0 1694.9 L1261.7 1693.5 L1264.5 1692.1 L1267.2 1690.7 L1269.9 1689.3 L1272.7 1687.9 L1275.4 1686.6 L1278.1 1685.2 L1280.8 1683.8 L1283.6 1682.4 L1286.3 1681.0 L1289.0 1679.7 L1291.7 1678.3 L1294.5 1676.9 L1297.2 1675.5 L1299.9 1674.1 L1302.7 1672.8 L1305.4 1671.4 L1308.1 1670.0 L1310.9 1668.7 L1313.6 1667.3 L1316.3 1665.9 L1319.1 1664.5 L1321.8 1663.2 L1324.5 1661.8 L1327.3 1660.4 L1330.0 1659.1 L1332.7 1657.7 L1335.5 1656.3 L1338.2 1655.0 L1340.9 1653.6 L1343.7 1652.3 L1346.4 1650.9 L1349.1 1649.5 L1351.9 1648.2 L1354.6 1646.8 L1357.4 1645.5 L1360.1 1644.1 L1362.8 1642.7 L1365.6 1641.4 L1368.3 1640.0 L1371.1 1638.7 L1373.8 1637.3 L1376.6 1636.0 L1379.3 1634.6 L1382.0 1633.3 L1384.8 1631.9 L1387.5 1630.6 L1390.3 1629.3 L1393.0 1627.9 L1395.8 1626.6 L1398.5 1625.2 L1401.3 1623.9 L1404.0 1622.5 L1406.8 1621.2 L1409.5 1619.9 L1412.3 1618.5 L1415.0 1617.2 L1417.8 1615.9 L1420.5 1614.5 L1423.3 1613.2 L1426.0 1611.9 L1428.8 1610.5 L1431.5 1609.2 L1434.3 1607.9 L1437.0 1606.6 L1439.8 1605.2 L1442.6 1603.9 L1445.3 1602.6 L1448.1 1601.3 L1450.8 1599.9 L1453.6 1598.6 L1456.4 1597.3 L1459.1 1596.0 L1461.9 1594.7 L1464.6 1593.3 L1467.4 1592.0 L1470.2 1590.7 L1472.9 1589.4 L1475.7 1588.1 L1478.4 1586.7 L1481.2 1585.4 L1484.0 1584.1 L1486.7 1582.8 L1489.5 1581.5 L1492.2 1580.2 L1495.0 1578.9 L1497.8 1577.5 L1500.5 1576.2 L1503.3 1574.9 L1506.1 1573.6 L1508.8 1572.3 L1511.6 1571.0 L1514.3 1569.6 L1517.1 1568.3 L1519.9 1567.0 L1522.6 1565.7 L1525.4 1564.4 L1528.1 1563.1 L1530.9 1561.7 L1533.7 1560.4 L1536.4 1559.1 L1539.2 1557.8 L1541.9 1556.5 L1544.7 1555.1 L1547.5 1553.8 L1550.2 1552.5 L1553.0 1551.2 L1555.7 1549.8 L1558.5 1548.5 L1561.2 1547.2 L1564.0 1545.8 L1566.8 1544.5 L1569.5 1543.2 L1572.3 1541.8 L1575.0 1540.5 L1577.8 1539.2 L1580.5 1537.8 L1583.3 1536.5 L1586.0 1535.2 L1588.8 1533.8 L1591.5 1532.5 L1594.3 1531.1 L1597.0 1529.8 L1599.7 1528.4 L1602.5 1527.1 L1605.2 1525.7 L1608.0 1524.4 L1610.7 1523.0 L1613.5 1521.7 L1616.2 1520.3 L1618.9 1518.9 L1621.7 1517.6 L1624.4 1516.2 L1627.1 1514.8 L1629.9 1513.5 L1632.6 1512.1 L1635.3 1510.7 L1638.1 1509.3 L1640.8 1507.9 L1643.5 1506.6 L1646.2 1505.2 L1649.0 1503.8 L1651.7 1502.4 L1654.4 1501.0 L1657.1 1499.6 L1659.8 1498.2" stroke="#00B0F0" stroke-width="6" stroke-linecap="butt"/>
<path d="M306.3 2541.7 L306.3 2538.9 L306.2 2536.2 L306.2 2533.4 L306.1 2530.7 L306.0 2527.9 L306.0 2525.2 L306.0 2522.5 L305.9 2519.7 L305.9 2517.0 L305.8 2514.2 L305.8 2511.5 L305.8 2508.8 L305.8 2506.0 L305.7 2503.3 L305.7 2500.6 L305.7 2497.9 L305.7 2495.1 L305.7 2492.4 L305.7 2489.7 L305.7 2487.0 L305.7 2484.2 L305.7 2481.5 L305.7 2478.8 L305.7 2476.1 L305.7 2473.3 L305.7 2470.6 L305.7 2467.9 L305.7 2465.2 L305.7 2462.5 L305.8 2459.8 L305.8 2457.0 L305.8 2454.3 L305.8 2451.6 L305.8 2448.9 L305.9 2446.2 L305.9 2443.5 L305.9 2440.8 L305.9 2438.1 L306.0 2435.3 L306.0 2432.6 L306.0 2429.9 L306.0 2427.2 L306.1 2424.5 L306.1 2421.8 L306.1 2419.1 L306.1 2416.4 L306.2 2413.7 L306.2 2411.0 L306.2 2408.2 L306.3 2405.5 L306.3 2402.8 L306.3 2400.1 L306.3 2397.4 L306.4 2394.7 L306.4 2392.0 L306.4 2389.3 L306.4 2386.6 L306.4 2383.9 L306.5 2381.1 L306.5 2378.4 L306.5 2375.7 L306.5 2373.0 L306.5 2370.3 L306.5 2367.6 L306.5 2364.9 L306.6 2362.2 L306.6 2359.4 L306.6 2356.7 L306.6 2354.0 L306.6 2351.3 L306.6 2348.6 L306.6 2345.9 L306.5 2343.1 L306.5 2340.4 L306.5 2337.7 L306.5 2335.0 L306.5 2332.3 L306.5 2329.5 L306.4 2326.8 L306.4 2324.1 L306.4 2321.3 L306.3 2318.6 L306.3 2315.9 L306.3 2313.2 L306.2 2310.4 L306.2 2307.7 L306.1 2305.0 L306.1 2302.2 L306.0 2299.5 L305.9 2296.7 L305.9 2294.0 L305.8 2291.3 L305.7 2288.5 L305.6 2285.8 L305.6 2283.0 L305.5 2280.3 L305.4 2277.5 L305.4 2274.8 L305.3 2272.1 L305.2 2269.3 L305.2 2266.6 L305.1 2263.8 L305.1 2261.1 L305.0 2258.3 L305.0 2255.6 L305.0 2252.9 L304.9 2250.1 L304.9 2247.4 L304.9 2244.6 L304.9 2241.9 L305.0 2239.2 L305.0 2236.4 L305.0 2233.7 L305.1 2231.0 L305.2 2228.2 L305.3 2225.5 L305.4 2222.8 L305.5 2220.1 L305.7 2217.4 L305.8 2214.7 L306.0 2211.9 L306.2 2209.2 L306.4 2206.5 L306.7 2203.8 L306.9 2201.1 L307.2 2198.4 L307.5 2195.8 L307.9 2193.1 L308.2 2190.4 L308.6 2187.7 L309.0 2185.1 L309.5 2182.4 L309.9 2179.8 L310.4 2177.2 L310.9 2174.5 L311.5 2171.9 L312.1 2169.3 L312.7 2166.7 L313.3 2164.1 L314.0 2161.5 L314.7 2159.0 L315.5 2156.4 L316.2 2153.8 L317.0 2151.3 L317.9 2148.8 L318.8 2146.3 L319.7 2143.8 L320.6 2141.3 L321.6 2138.8 L322.6 2136.4 L323.7 2134.0 L324.8 2131.5 L326.0 2129.1 L327.1 2126.7 L328.3 2124.4 L329.6 2122.0 L330.9 2119.7 L332.2 2117.3 L333.5 2115.0 L334.9 2112.7 L336.3 2110.4 L337.7 2108.1 L339.2 2105.8 L340.7 2103.6 L342.2 2101.3 L343.7 2099.1 L345.3 2096.9 L346.9 2094.7 L348.5 2092.5 L350.1 2090.3 L351.8 2088.2 L353.5 2086.0 L355.2 2083.9 L356.9 2081.8 L358.6 2079.6 L360.4 2077.5 L362.2 2075.4 L364.0 2073.4 L365.8 2071.3 L367.6 2069.2 L369.4 2067.2 L371.3 2065.2 L373.1 2063.1 L375.0 2061.1 L376.9 2059.1 L378.8 2057.1 L380.7 2055.2 L382.6 2053.2 L384.5 2051.2 L386.4 2049.3 L388.4 2047.4 L390.3 2045.4 L392.3 2043.5 L394.2 2041.6 L396.2 2039.7 L398.2 2037.8 L400.1 2036.0 L402.1 2034.1 L404.1 2032.2 L406.1 2030.4 L408.2 2028.5 L410.2 2026.7 L412.2 2024.9 L414.3 2023.1 L416.3 2021.3 L418.3 2019.5 L420.4 2017.7 L422.5 2015.9 L424.5 2014.2 L426.6 2012.4 L428.7 2010.7 L430.8 2008.9 L432.9 2007.2 L435.0 2005.5 L437.1 2003.7 L439.2 2002.0 L441.3 2000.3 L443.5 1998.6 L445.6 1997.0 L447.7 1995.3 L449.9 1993.6 L452.0 1991.9 L454.2 1990.3 L456.4 1988.6 L458.5 1987.0 L460.7 1985.4 L462.9 1983.7 L465.1 1982.1 L467.2 1980.5 L469.4 1978.9 L471.6 1977.3 L473.8 1975.7 L476.0 1974.1 L478.2 1972.5 L480.4 1970.9 L482.7 1969.4 L484.9 1967.8 L487.1 1966.2 L489.3 1964.7 L491.6 1963.1 L493.8 1961.6 L496.0 1960.0 L498.3 1958.5 L500.5 1957.0 L502.8 1955.4 L505.0 1953.9 L507.3 1952.4 L509.6 1950.9 L511.8 1949.4 L514.1 1947.9 L516.4 1946.4 L518.6 1944.9 L520.9 1943.4 L523.2 1941.9 L525.5 1940.4 L527.7 1938.9 L530.0 1937.5 L532.3 1936.0 L534.6 1934.5 L536.9 1933.1 L539.2 1931.6 L541.5 1930.1 L543.8 1928.7 L546.1 1927.2 L548.4 1925.8 L550.7 1924.3 L553.0 1922.9 L555.3 1921.4 L557.6 1920.0 L559.9 1918.5 L562.2 1917.1 L564.5 1915.7 L566.8 1914.2 L569.1 1912.8 L571.4 1911.4 L573.7 1909.9 L576.1 1908.5 L578.4 1907.1 L580.7 1905.7 L583.0 1904.3 L585.3 1902.9 L587.7 1901.4 L590.0 1900.0 L592.3 1898.6 L594.6 1897.2 L597.0 1895.8 L599.3 1894.4 L601.6 1893.0 L604.0 1891.6 L606.3 1890.2 L608.6 1888.8 L611.0 1887.4 L613.3 1886.0 L615.6 1884.7 L618.0 1883.3 L620.3 1881.9 L622.7 1880.5 L625.0 1879.1 L627.4 1877.8 L629.7 1876.4 L632.0 1875.0 L634.4 1873.6 L636.7 1872.3 L639.1 1870.9 L641.4 1869.5 L643.8 1868.2 L646.1 1866.8 L648.5 1865.4 L650.9 1864.1 L653.2 1862.7 L655.6 1861.4 L657.9 1860.0 L660.3 1858.7 L662.6 1857.3 L665.0 1856.0 L667.4 1854.6 L669.7 1853.3 L672.1 1851.9 L674.5 1850.6 L676.8 1849.2 L679.2 1847.9 L681.6 1846.6 L683.9 1845.2 L686.3 1843.9 L688.7 1842.6 L691.0 1841.2 L693.4 1839.9 L695.8 1838.6 L698.2 1837.2 L700.5 1835.9 L702.9 1834.6 L705.3 1833.3 L707.7 1831.9 L710.0 1830.6 L712.4 1829.3 L714.8 1828.0 L717.2 1826.7 L719.5 1825.3 L721.9 1824.0 L724.3 1822.7 L726.7 1821.4 L729.1 1820.1 L731.5 1818.8 L733.8 1817.5 L736.2 1816.2 L738.6 1814.9 L741.0 1813.6 L743.4 1812.2 L745.8 1810.9 L748.2 1809.6 L750.6 1808.3 L752.9 1807.0 L755.3 1805.7 L757.7 1804.4 L760.1 1803.1 L762.5 1801.8 L764.9 1800.5 L767.3 1799.3 L769.7 1798.0 L772.1 1796.7 L774.5 1795.4 L776.9 1794.1 L779.3 1792.8 L781.7 1791.5 L784.1 1790.2 L786.4 1788.9 L788.8 1787.6 L791.2 1786.3 L793.6 1785.1 L796.0 1783.8 L798.4 1782.5 L800.8 1781.2 L803.2 1779.9 L805.6 1778.6 L808.0 1777.3 L810.4 1776.1 L812.8 1774.8 L815.2 1773.5 L817.6 1772.2 L820.0 1770.9 L822.4 1769.7 L824.8 1768.4 L827.2 1767.1 L829.6 1765.8 L832.0 1764.5 L834.4 1763.3 L836.9 1762.0 L839.3 1760.7 L841.7 1759.4 L844.1 1758.2 L846.5 1756.9 L848.9 1755.6 L851.3 1754.3 L853.7 1753.0 L856.1 1751.8 L858.5 1750.5 L860.9 1749.2 L863.3 1747.9 L865.7 1746.7 L868.1 1745.4 L870.5 1744.1 L872.9 1742.8 L875.3 1741.6 L877.7 1740.3 L880.1 1739.0 L882.5 1737.8 L884.9 1736.5 L887.3 1735.2 L889.7 1733.9 L892.2 1732.7 L894.6 1731.4 L897.0 1730.1 L899.4 1728.8 L901.8 1727.6 L904.2 1726.3 L906.6 1725.0 L909.0 1723.7 L911.4 1722.5 L913.8 1721.2 L916.2 1719.9 L918.6 1718.6 L921.0 1717.4 L923.4 1716.1 L925.8 1714.8 L928.2 1713.5 L930.6 1712.2 L933.0 1711.0 L935.4 1709.7 L937.8 1708.4 L940.2 1707.1 L942.6 1705.8 L945.0 1704.6 L947.4 1703.3 L949.8 1702.0 L952.2 1700.7 L954.6 1699.4 L957.0 1698.2 L959.4 1696.9 L961.8 1695.6 L964.2 1694.3 L966.6 1693.0 L969.0 1691.8 L971.4 1690.5 L973.8 1689.2 L976.2 1687.9 L978.6 1686.6 L981.0 1685.3 L983.4 1684.1 L985.8 1682.8 L988.2 1681.5 L990.6 1680.2 L993.0 1678.9 L995.4 1677.6 L997.8 1676.4 L1000.2 1675.1 L1002.6 1673.8 L1005.0 1672.5 L1007.4 1671.2 L1009.8 1669.9 L1012.2 1668.7 L1014.6 1667.4 L1017.0 1666.1 L1019.4 1664.8 L1021.8 1663.5 L1024.2 1662.3 L1026.6 1661.0 L1029.0 1659.7 L1031.4 1658.4 L1033.8 1657.1 L1036.2 1655.9 L1038.6 1654.6 L1041.0 1653.3 L1043.4 1652.0 L1045.8 1650.7 L1048.2 1649.5 L1050.6 1648.2 L1053.0 1646.9 L1055.4 1645.6 L1057.8 1644.3 L1060.2 1643.1 L1062.6 1641.8 L1065.0 1640.5 L1067.4 1639.2 L1069.8 1638.0 L1072.2 1636.7 L1074.6 1635.4 L1077.0 1634.2 L1079.4 1632.9 L1081.8 1631.6 L1084.2 1630.3 L1086.6 1629.1 L1089.1 1627.8 L1091.5 1626.5 L1093.9 1625.3 L1096.3 1624.0 L1098.7 1622.7 L1101.1 1621.5 L1103.5 1620.2 L1105.9 1618.9 L1108.3 1617.7 L1110.7 1616.4 L1113.1 1615.1 L1115.5 1613.9 L1117.9 1612.6 L1120.4 1611.4 L1122.8 1610.1 L1125.2 1608.9 L1127.6 1607.6 L1130.0 1606.3 L1132.4 1605.1 L1134.8 1603.8 L1137.2 1602.6 L1139.7 1601.3 L1142.1 1600.1 L1144.5 1598.8 L1146.9 1597.6 L1149.3 1596.3 L1151.7 1595.1 L1154.2 1593.8 L1156.6 1592.6 L1159.0 1591.4 L1161.4 1590.1 L1163.8 1588.9 L1166.3 1587.6 L1168.7 1586.4 L1171.1 1585.2 L1173.5 1583.9 L1175.9 1582.7 L1178.4 1581.5 L1180.8 1580.2 L1183.2 1579.0 L1185.6 1577.8 L1188.1 1576.6 L1190.5 1575.3 L1192.9 1574.1 L1195.4 1572.9 L1197.8 1571.7 L1200.2 1570.4 L1202.7 1569.2 L1205.1 1568.0 L1207.5 1566.8 L1210.0 1565.6 L1212.4 1564.4 L1214.8 1563.2 L1217.3 1562.0 L1219.7 1560.7 L1222.1 1559.5 L1224.6 1558.3 L1227.0 1557.1 L1229.5 1555.9 L1231.9 1554.7 L1234.3 1553.5 L1236.8 1552.3 L1239.2 1551.2 L1241.7 1550.0 L1244.1 1548.8 L1246.6 1547.6 L1249.0 1546.4 L1251.5 1545.2 L1253.9 1544.0 L1256.4 1542.8 L1258.8 1541.7 L1261.3 1540.5 L1263.7 1539.3 L1266.2 1538.1 L1268.6 1537.0 L1271.1 1535.8 L1273.5 1534.6 L1276.0 1533.5 L1278.5 1532.3 L1280.9 1531.1 L1283.4 1530.0 L1285.9 1528.8 L1288.3 1527.7 L1290.8 1526.5 L1293.3 1525.4 L1295.7 1524.2 L1298.2 1523.1 L1300.7 1521.9 L1303.1 1520.8 L1305.6 1519.6 L1308.1 1518.5 L1310.6 1517.4 L1313.0 1516.2 L1315.5 1515.1 L1318.0 1514.0 L1320.5 1512.9 L1322.9 1511.7 L1325.4 1510.6 L1327.9 1509.5 L1330.4 1508.4 L1332.9 1507.3 L1335.4 1506.1 L1337.9 1505.0 L1340.3 1503.9 L1342.8 1502.8 L1345.3 1501.7 L1347.8 1500.6 L1350.3 1499.5" stroke="#FF0000" stroke-width="6" stroke-linecap="butt"/>
<path d="M307.0 2269.4 H759.5" stroke="#00B0F0" stroke-width="3.2" stroke-linecap="round" stroke-dasharray="17.73 9.47"/>
<path d="M307.0 2307.4 H762.2" stroke="#00B0F0" stroke-width="3.8" stroke-linecap="round" stroke-dasharray="4.33 5.54"/>
<path d="M307.0 2162.2 H761.5" stroke="#00B0F0" stroke-width="3.8" stroke-linecap="round"/>
</g>
<g font-family="Carlito, 'Liberation Sans', Arial, sans-serif" font-size="72" fill="#000">
<text x="223.5" y="2563.5" text-anchor="end" textLength="36.72" lengthAdjust="spacingAndGlyphs">0</text>
<text x="223.5" y="2391.0" text-anchor="end" textLength="73.42" lengthAdjust="spacingAndGlyphs">50</text>
<text x="223.5" y="2218.5" text-anchor="end" textLength="110.14" lengthAdjust="spacingAndGlyphs">100</text>
<text x="223.5" y="2046.0" text-anchor="end" textLength="110.14" lengthAdjust="spacingAndGlyphs">150</text>
<text x="223.5" y="1873.5" text-anchor="end" textLength="110.14" lengthAdjust="spacingAndGlyphs">200</text>
<text x="223.5" y="1701.0" text-anchor="end" textLength="110.14" lengthAdjust="spacingAndGlyphs">250</text>
<text x="223.5" y="1528.5" text-anchor="end" textLength="110.14" lengthAdjust="spacingAndGlyphs">300</text>
<text x="307.0" y="2657.0" text-anchor="middle" textLength="36.72" lengthAdjust="spacingAndGlyphs">0</text>
<text x="657.6" y="2657.0" text-anchor="middle" textLength="110.14" lengthAdjust="spacingAndGlyphs">100</text>
<text x="1008.2" y="2657.0" text-anchor="middle" textLength="110.14" lengthAdjust="spacingAndGlyphs">200</text>
<text x="1358.8" y="2657.0" text-anchor="middle" textLength="110.14" lengthAdjust="spacingAndGlyphs">300</text>
<text x="1709.4" y="2657.0" text-anchor="middle" textLength="110.14" lengthAdjust="spacingAndGlyphs">400</text>
<text x="1055.2" y="2713.5" text-anchor="start" font-weight="bold" textLength="370.09" lengthAdjust="spacingAndGlyphs">stress (MPa)</text>
<g transform="translate(82.6,2299) rotate(-90)"><text x="0.0" y="0.0" text-anchor="start" font-weight="bold" textLength="562.67" lengthAdjust="spacingAndGlyphs">moment (kN·m/m)</text></g>
<path d="M991.8 2026.0 H1120.9" stroke="#000" stroke-width="6" stroke-linecap="round" fill="none"/>
<text x="1136.0" y="2048.1" text-anchor="start" textLength="631.57" lengthAdjust="spacingAndGlyphs">333 kN/m-Type-BNeg</text>
<path d="M991.8 2104.3 H1120.9" stroke="#00B0F0" stroke-width="6" stroke-linecap="round" fill="none" stroke-dasharray="34.8 19.6"/>
<text x="1136.0" y="2126.4" text-anchor="start" textLength="517.17" lengthAdjust="spacingAndGlyphs">667 kN/m-Type-A</text>
<path d="M991.8 2182.6 H1120.9" stroke="#00B0F0" stroke-width="6" stroke-linecap="round" fill="none"/>
<text x="1136.0" y="2204.7" text-anchor="start" textLength="631.57" lengthAdjust="spacingAndGlyphs">667 kN/m-Type-BNeg</text>
<path d="M991.8 2260.9 H1120.9" stroke="#FF0000" stroke-width="6" stroke-linecap="round" fill="none"/>
<text x="1136.0" y="2282.9" text-anchor="start" textLength="668.27" lengthAdjust="spacingAndGlyphs">1000 kN/m-Type-BNeg</text>
<path d="M991.8 2339.2 H1120.9" stroke="#00B0F0" stroke-width="3.2" stroke-linecap="round" fill="none" stroke-dasharray="17.73 9.47"/>
<text x="1136.0" y="2361.2" text-anchor="start" textLength="1004.54" lengthAdjust="spacingAndGlyphs">end of 1st stage-667 kN/m-Type-A</text>
<path d="M991.8 2417.4 H1120.9" stroke="#00B0F0" stroke-width="3.8" stroke-linecap="round" fill="none" stroke-dasharray="4.33 5.54"/>
<text x="1136.0" y="2439.5" text-anchor="start" textLength="1118.92" lengthAdjust="spacingAndGlyphs">end of 1st stage-667 kN/m-Type-BNeg</text>
<path d="M991.8 2495.7 H1120.9" stroke="#00B0F0" stroke-width="3.8" stroke-linecap="round" fill="none"/>
<text x="1136.0" y="2517.8" text-anchor="start" textLength="779.4" lengthAdjust="spacingAndGlyphs">end of 2st stage-667 kN/m</text>
</g>
<g font-family="'TeX Gyre Pagella', 'Palatino Linotype', Palatino, 'Liberation Serif', serif" font-size="70" fill="#000">
<text x="1143" y="1397.5" text-anchor="middle" textLength="98.84" lengthAdjust="spacingAndGlyphs">(<tspan font-weight="bold">a</tspan>)</text>
<text x="1143" y="2825.5" text-anchor="middle" textLength="106.63" lengthAdjust="spacingAndGlyphs">(<tspan font-weight="bold">b</tspan>)</text>
</g>
</svg>
</body></html>
